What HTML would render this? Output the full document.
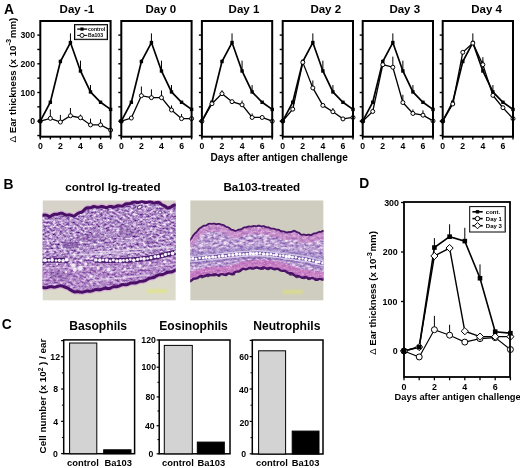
<!DOCTYPE html>
<html><head><meta charset="utf-8"><style>
html,body{margin:0;padding:0;background:#fff;}
svg{display:block;will-change:transform;}
text{font-family:"Liberation Sans", sans-serif;fill:#000;}
</style></head><body>
<svg width="520" height="468" viewBox="0 0 520 468">
<rect x="0" y="0" width="520" height="468" fill="#fff"/>
<line x1="70.43" y1="42.56" x2="70.43" y2="33.38" stroke="#000" stroke-width="1.0"/>
<line x1="80.47" y1="70.98" x2="80.47" y2="60.64" stroke="#000" stroke-width="1.0"/>
<line x1="90.51" y1="91.93" x2="90.51" y2="85.04" stroke="#000" stroke-width="1.0"/>
<line x1="60.39" y1="61.50" x2="60.39" y2="59.50" stroke="#000" stroke-width="1.0"/>
<line x1="50.34" y1="102.26" x2="50.34" y2="101.11" stroke="#000" stroke-width="1.0"/>
<line x1="50.34" y1="118.33" x2="50.34" y2="109.43" stroke="#000" stroke-width="1.0"/>
<line x1="60.39" y1="122.06" x2="60.39" y2="114.89" stroke="#000" stroke-width="1.0"/>
<line x1="70.43" y1="115.75" x2="70.43" y2="108.00" stroke="#000" stroke-width="1.0"/>
<line x1="80.47" y1="117.76" x2="80.47" y2="114.60" stroke="#000" stroke-width="1.0"/>
<line x1="90.51" y1="124.93" x2="90.51" y2="118.62" stroke="#000" stroke-width="1.0"/>
<line x1="100.56" y1="124.93" x2="100.56" y2="119.19" stroke="#000" stroke-width="1.0"/>
<polyline points="40.30,121.20 50.34,102.26 60.39,61.50 70.43,42.56 80.47,70.98 90.51,91.93 100.56,102.26 110.60,109.43" fill="none" stroke="#000" stroke-width="1.7" stroke-linejoin="miter"/>
<polyline points="40.30,121.20 50.34,118.33 60.39,122.06 70.43,115.75 80.47,117.76 90.51,124.93 100.56,124.93 110.60,130.10" fill="none" stroke="#000" stroke-width="1.3" stroke-linejoin="miter"/>
<rect x="38.60" y="119.50" width="3.4" height="3.4" fill="#000"/>
<rect x="48.64" y="100.56" width="3.4" height="3.4" fill="#000"/>
<rect x="58.69" y="59.80" width="3.4" height="3.4" fill="#000"/>
<rect x="68.73" y="40.86" width="3.4" height="3.4" fill="#000"/>
<rect x="78.77" y="69.28" width="3.4" height="3.4" fill="#000"/>
<rect x="88.81" y="90.23" width="3.4" height="3.4" fill="#000"/>
<rect x="98.86" y="100.56" width="3.4" height="3.4" fill="#000"/>
<rect x="108.90" y="107.73" width="3.4" height="3.4" fill="#000"/>
<circle cx="40.30" cy="121.20" r="2.0" fill="#fff" stroke="#000" stroke-width="1.0"/>
<circle cx="50.34" cy="118.33" r="2.0" fill="#fff" stroke="#000" stroke-width="1.0"/>
<circle cx="60.39" cy="122.06" r="2.0" fill="#fff" stroke="#000" stroke-width="1.0"/>
<circle cx="70.43" cy="115.75" r="2.0" fill="#fff" stroke="#000" stroke-width="1.0"/>
<circle cx="80.47" cy="117.76" r="2.0" fill="#fff" stroke="#000" stroke-width="1.0"/>
<circle cx="90.51" cy="124.93" r="2.0" fill="#fff" stroke="#000" stroke-width="1.0"/>
<circle cx="100.56" cy="124.93" r="2.0" fill="#fff" stroke="#000" stroke-width="1.0"/>
<circle cx="110.60" cy="130.10" r="2.0" fill="#fff" stroke="#000" stroke-width="1.0"/>
<rect x="38.60" y="119.50" width="3.4" height="3.4" fill="#000"/>
<rect x="40.30" y="21.00" width="70.30" height="115.70" fill="none" stroke="#000" stroke-width="2"/>
<line x1="37.30" y1="135.55" x2="40.30" y2="135.55" stroke="#000" stroke-width="1.4"/>
<line x1="37.30" y1="121.20" x2="40.30" y2="121.20" stroke="#000" stroke-width="1.4"/>
<line x1="37.30" y1="106.85" x2="40.30" y2="106.85" stroke="#000" stroke-width="1.4"/>
<line x1="37.30" y1="92.50" x2="40.30" y2="92.50" stroke="#000" stroke-width="1.4"/>
<line x1="37.30" y1="78.15" x2="40.30" y2="78.15" stroke="#000" stroke-width="1.4"/>
<line x1="37.30" y1="63.80" x2="40.30" y2="63.80" stroke="#000" stroke-width="1.4"/>
<line x1="37.30" y1="49.45" x2="40.30" y2="49.45" stroke="#000" stroke-width="1.4"/>
<line x1="37.30" y1="35.10" x2="40.30" y2="35.10" stroke="#000" stroke-width="1.4"/>
<line x1="40.30" y1="136.70" x2="40.30" y2="139.40" stroke="#000" stroke-width="1.4"/>
<line x1="50.34" y1="136.70" x2="50.34" y2="139.40" stroke="#000" stroke-width="1.4"/>
<line x1="60.39" y1="136.70" x2="60.39" y2="139.40" stroke="#000" stroke-width="1.4"/>
<line x1="70.43" y1="136.70" x2="70.43" y2="139.40" stroke="#000" stroke-width="1.4"/>
<line x1="80.47" y1="136.70" x2="80.47" y2="139.40" stroke="#000" stroke-width="1.4"/>
<line x1="90.51" y1="136.70" x2="90.51" y2="139.40" stroke="#000" stroke-width="1.4"/>
<line x1="100.56" y1="136.70" x2="100.56" y2="139.40" stroke="#000" stroke-width="1.4"/>
<line x1="110.60" y1="136.70" x2="110.60" y2="139.40" stroke="#000" stroke-width="1.4"/>
<text x="40.30" y="149.00" font-size="8.7" text-anchor="middle" font-weight="bold" >0</text>
<text x="60.39" y="149.00" font-size="8.7" text-anchor="middle" font-weight="bold" >2</text>
<text x="80.47" y="149.00" font-size="8.7" text-anchor="middle" font-weight="bold" >4</text>
<text x="100.56" y="149.00" font-size="8.7" text-anchor="middle" font-weight="bold" >6</text>
<text x="59.60" y="13.40" font-size="11.5" text-anchor="start" font-weight="bold" >Day -1</text>
<line x1="151.43" y1="42.56" x2="151.43" y2="33.38" stroke="#000" stroke-width="1.0"/>
<line x1="161.47" y1="70.98" x2="161.47" y2="60.64" stroke="#000" stroke-width="1.0"/>
<line x1="171.51" y1="91.93" x2="171.51" y2="85.04" stroke="#000" stroke-width="1.0"/>
<line x1="141.39" y1="61.50" x2="141.39" y2="59.50" stroke="#000" stroke-width="1.0"/>
<line x1="131.34" y1="102.26" x2="131.34" y2="101.11" stroke="#000" stroke-width="1.0"/>
<line x1="141.39" y1="95.66" x2="141.39" y2="86.47" stroke="#000" stroke-width="1.0"/>
<line x1="151.43" y1="97.67" x2="151.43" y2="89.34" stroke="#000" stroke-width="1.0"/>
<line x1="161.47" y1="97.67" x2="161.47" y2="90.49" stroke="#000" stroke-width="1.0"/>
<line x1="171.51" y1="110.01" x2="171.51" y2="105.42" stroke="#000" stroke-width="1.0"/>
<line x1="181.56" y1="118.62" x2="181.56" y2="114.03" stroke="#000" stroke-width="1.0"/>
<polyline points="121.30,121.20 131.34,102.26 141.39,61.50 151.43,42.56 161.47,70.98 171.51,91.93 181.56,102.26 191.60,109.43" fill="none" stroke="#000" stroke-width="1.7" stroke-linejoin="miter"/>
<polyline points="121.30,121.20 131.34,118.04 141.39,95.66 151.43,97.67 161.47,97.67 171.51,110.01 181.56,118.62 191.60,118.62" fill="none" stroke="#000" stroke-width="1.3" stroke-linejoin="miter"/>
<rect x="119.60" y="119.50" width="3.4" height="3.4" fill="#000"/>
<rect x="129.64" y="100.56" width="3.4" height="3.4" fill="#000"/>
<rect x="139.69" y="59.80" width="3.4" height="3.4" fill="#000"/>
<rect x="149.73" y="40.86" width="3.4" height="3.4" fill="#000"/>
<rect x="159.77" y="69.28" width="3.4" height="3.4" fill="#000"/>
<rect x="169.81" y="90.23" width="3.4" height="3.4" fill="#000"/>
<rect x="179.86" y="100.56" width="3.4" height="3.4" fill="#000"/>
<rect x="189.90" y="107.73" width="3.4" height="3.4" fill="#000"/>
<circle cx="121.30" cy="121.20" r="2.0" fill="#fff" stroke="#000" stroke-width="1.0"/>
<circle cx="131.34" cy="118.04" r="2.0" fill="#fff" stroke="#000" stroke-width="1.0"/>
<circle cx="141.39" cy="95.66" r="2.0" fill="#fff" stroke="#000" stroke-width="1.0"/>
<circle cx="151.43" cy="97.67" r="2.0" fill="#fff" stroke="#000" stroke-width="1.0"/>
<circle cx="161.47" cy="97.67" r="2.0" fill="#fff" stroke="#000" stroke-width="1.0"/>
<circle cx="171.51" cy="110.01" r="2.0" fill="#fff" stroke="#000" stroke-width="1.0"/>
<circle cx="181.56" cy="118.62" r="2.0" fill="#fff" stroke="#000" stroke-width="1.0"/>
<circle cx="191.60" cy="118.62" r="2.0" fill="#fff" stroke="#000" stroke-width="1.0"/>
<rect x="119.60" y="119.50" width="3.4" height="3.4" fill="#000"/>
<rect x="121.30" y="21.00" width="70.30" height="115.70" fill="none" stroke="#000" stroke-width="2"/>
<line x1="118.30" y1="135.55" x2="121.30" y2="135.55" stroke="#000" stroke-width="1.4"/>
<line x1="118.30" y1="121.20" x2="121.30" y2="121.20" stroke="#000" stroke-width="1.4"/>
<line x1="118.30" y1="106.85" x2="121.30" y2="106.85" stroke="#000" stroke-width="1.4"/>
<line x1="118.30" y1="92.50" x2="121.30" y2="92.50" stroke="#000" stroke-width="1.4"/>
<line x1="118.30" y1="78.15" x2="121.30" y2="78.15" stroke="#000" stroke-width="1.4"/>
<line x1="118.30" y1="63.80" x2="121.30" y2="63.80" stroke="#000" stroke-width="1.4"/>
<line x1="118.30" y1="49.45" x2="121.30" y2="49.45" stroke="#000" stroke-width="1.4"/>
<line x1="118.30" y1="35.10" x2="121.30" y2="35.10" stroke="#000" stroke-width="1.4"/>
<line x1="121.30" y1="136.70" x2="121.30" y2="139.40" stroke="#000" stroke-width="1.4"/>
<line x1="131.34" y1="136.70" x2="131.34" y2="139.40" stroke="#000" stroke-width="1.4"/>
<line x1="141.39" y1="136.70" x2="141.39" y2="139.40" stroke="#000" stroke-width="1.4"/>
<line x1="151.43" y1="136.70" x2="151.43" y2="139.40" stroke="#000" stroke-width="1.4"/>
<line x1="161.47" y1="136.70" x2="161.47" y2="139.40" stroke="#000" stroke-width="1.4"/>
<line x1="171.51" y1="136.70" x2="171.51" y2="139.40" stroke="#000" stroke-width="1.4"/>
<line x1="181.56" y1="136.70" x2="181.56" y2="139.40" stroke="#000" stroke-width="1.4"/>
<line x1="191.60" y1="136.70" x2="191.60" y2="139.40" stroke="#000" stroke-width="1.4"/>
<text x="121.30" y="149.00" font-size="8.7" text-anchor="middle" font-weight="bold" >0</text>
<text x="141.39" y="149.00" font-size="8.7" text-anchor="middle" font-weight="bold" >2</text>
<text x="161.47" y="149.00" font-size="8.7" text-anchor="middle" font-weight="bold" >4</text>
<text x="181.56" y="149.00" font-size="8.7" text-anchor="middle" font-weight="bold" >6</text>
<text x="145.50" y="13.40" font-size="11.5" text-anchor="start" font-weight="bold" >Day 0</text>
<line x1="232.03" y1="42.56" x2="232.03" y2="33.38" stroke="#000" stroke-width="1.0"/>
<line x1="242.07" y1="70.98" x2="242.07" y2="60.64" stroke="#000" stroke-width="1.0"/>
<line x1="252.11" y1="91.93" x2="252.11" y2="85.04" stroke="#000" stroke-width="1.0"/>
<line x1="221.99" y1="61.50" x2="221.99" y2="59.50" stroke="#000" stroke-width="1.0"/>
<line x1="211.94" y1="102.26" x2="211.94" y2="101.11" stroke="#000" stroke-width="1.0"/>
<line x1="221.99" y1="93.65" x2="221.99" y2="90.20" stroke="#000" stroke-width="1.0"/>
<line x1="242.07" y1="104.84" x2="242.07" y2="100.54" stroke="#000" stroke-width="1.0"/>
<line x1="252.11" y1="117.47" x2="252.11" y2="113.45" stroke="#000" stroke-width="1.0"/>
<polyline points="201.90,121.20 211.94,102.26 221.99,61.50 232.03,42.56 242.07,70.98 252.11,91.93 262.16,102.26 272.20,109.43" fill="none" stroke="#000" stroke-width="1.7" stroke-linejoin="miter"/>
<polyline points="201.90,121.20 211.94,103.69 221.99,93.65 232.03,101.68 242.07,104.84 252.11,117.47 262.16,117.47 272.20,121.20" fill="none" stroke="#000" stroke-width="1.3" stroke-linejoin="miter"/>
<rect x="200.20" y="119.50" width="3.4" height="3.4" fill="#000"/>
<rect x="210.24" y="100.56" width="3.4" height="3.4" fill="#000"/>
<rect x="220.29" y="59.80" width="3.4" height="3.4" fill="#000"/>
<rect x="230.33" y="40.86" width="3.4" height="3.4" fill="#000"/>
<rect x="240.37" y="69.28" width="3.4" height="3.4" fill="#000"/>
<rect x="250.41" y="90.23" width="3.4" height="3.4" fill="#000"/>
<rect x="260.46" y="100.56" width="3.4" height="3.4" fill="#000"/>
<rect x="270.50" y="107.73" width="3.4" height="3.4" fill="#000"/>
<circle cx="201.90" cy="121.20" r="2.0" fill="#fff" stroke="#000" stroke-width="1.0"/>
<circle cx="211.94" cy="103.69" r="2.0" fill="#fff" stroke="#000" stroke-width="1.0"/>
<circle cx="221.99" cy="93.65" r="2.0" fill="#fff" stroke="#000" stroke-width="1.0"/>
<circle cx="232.03" cy="101.68" r="2.0" fill="#fff" stroke="#000" stroke-width="1.0"/>
<circle cx="242.07" cy="104.84" r="2.0" fill="#fff" stroke="#000" stroke-width="1.0"/>
<circle cx="252.11" cy="117.47" r="2.0" fill="#fff" stroke="#000" stroke-width="1.0"/>
<circle cx="262.16" cy="117.47" r="2.0" fill="#fff" stroke="#000" stroke-width="1.0"/>
<circle cx="272.20" cy="121.20" r="2.0" fill="#fff" stroke="#000" stroke-width="1.0"/>
<rect x="201.90" y="21.00" width="70.30" height="115.70" fill="none" stroke="#000" stroke-width="2"/>
<line x1="198.90" y1="135.55" x2="201.90" y2="135.55" stroke="#000" stroke-width="1.4"/>
<line x1="198.90" y1="121.20" x2="201.90" y2="121.20" stroke="#000" stroke-width="1.4"/>
<line x1="198.90" y1="106.85" x2="201.90" y2="106.85" stroke="#000" stroke-width="1.4"/>
<line x1="198.90" y1="92.50" x2="201.90" y2="92.50" stroke="#000" stroke-width="1.4"/>
<line x1="198.90" y1="78.15" x2="201.90" y2="78.15" stroke="#000" stroke-width="1.4"/>
<line x1="198.90" y1="63.80" x2="201.90" y2="63.80" stroke="#000" stroke-width="1.4"/>
<line x1="198.90" y1="49.45" x2="201.90" y2="49.45" stroke="#000" stroke-width="1.4"/>
<line x1="198.90" y1="35.10" x2="201.90" y2="35.10" stroke="#000" stroke-width="1.4"/>
<line x1="201.90" y1="136.70" x2="201.90" y2="139.40" stroke="#000" stroke-width="1.4"/>
<line x1="211.94" y1="136.70" x2="211.94" y2="139.40" stroke="#000" stroke-width="1.4"/>
<line x1="221.99" y1="136.70" x2="221.99" y2="139.40" stroke="#000" stroke-width="1.4"/>
<line x1="232.03" y1="136.70" x2="232.03" y2="139.40" stroke="#000" stroke-width="1.4"/>
<line x1="242.07" y1="136.70" x2="242.07" y2="139.40" stroke="#000" stroke-width="1.4"/>
<line x1="252.11" y1="136.70" x2="252.11" y2="139.40" stroke="#000" stroke-width="1.4"/>
<line x1="262.16" y1="136.70" x2="262.16" y2="139.40" stroke="#000" stroke-width="1.4"/>
<line x1="272.20" y1="136.70" x2="272.20" y2="139.40" stroke="#000" stroke-width="1.4"/>
<text x="201.90" y="149.00" font-size="8.7" text-anchor="middle" font-weight="bold" >0</text>
<text x="221.99" y="149.00" font-size="8.7" text-anchor="middle" font-weight="bold" >2</text>
<text x="242.07" y="149.00" font-size="8.7" text-anchor="middle" font-weight="bold" >4</text>
<text x="262.16" y="149.00" font-size="8.7" text-anchor="middle" font-weight="bold" >6</text>
<text x="228.60" y="13.40" font-size="11.5" text-anchor="start" font-weight="bold" >Day 1</text>
<line x1="312.83" y1="42.56" x2="312.83" y2="33.38" stroke="#000" stroke-width="1.0"/>
<line x1="322.87" y1="70.98" x2="322.87" y2="60.64" stroke="#000" stroke-width="1.0"/>
<line x1="332.91" y1="91.93" x2="332.91" y2="85.04" stroke="#000" stroke-width="1.0"/>
<line x1="302.79" y1="61.50" x2="302.79" y2="59.50" stroke="#000" stroke-width="1.0"/>
<line x1="292.74" y1="102.26" x2="292.74" y2="101.11" stroke="#000" stroke-width="1.0"/>
<line x1="312.83" y1="87.91" x2="312.83" y2="80.45" stroke="#000" stroke-width="1.0"/>
<line x1="332.91" y1="111.73" x2="332.91" y2="108.00" stroke="#000" stroke-width="1.0"/>
<polyline points="282.70,121.20 292.74,102.26 302.79,61.50 312.83,42.56 322.87,70.98 332.91,91.93 342.96,102.26 353.00,109.43" fill="none" stroke="#000" stroke-width="1.7" stroke-linejoin="miter"/>
<polyline points="282.70,121.20 292.74,109.15 302.79,62.37 312.83,87.91 322.87,105.42 332.91,111.73 342.96,118.90 353.00,117.47" fill="none" stroke="#000" stroke-width="1.3" stroke-linejoin="miter"/>
<rect x="281.00" y="119.50" width="3.4" height="3.4" fill="#000"/>
<rect x="291.04" y="100.56" width="3.4" height="3.4" fill="#000"/>
<rect x="301.09" y="59.80" width="3.4" height="3.4" fill="#000"/>
<rect x="311.13" y="40.86" width="3.4" height="3.4" fill="#000"/>
<rect x="321.17" y="69.28" width="3.4" height="3.4" fill="#000"/>
<rect x="331.21" y="90.23" width="3.4" height="3.4" fill="#000"/>
<rect x="341.26" y="100.56" width="3.4" height="3.4" fill="#000"/>
<rect x="351.30" y="107.73" width="3.4" height="3.4" fill="#000"/>
<circle cx="282.70" cy="121.20" r="2.0" fill="#fff" stroke="#000" stroke-width="1.0"/>
<circle cx="292.74" cy="109.15" r="2.0" fill="#fff" stroke="#000" stroke-width="1.0"/>
<circle cx="302.79" cy="62.37" r="2.0" fill="#fff" stroke="#000" stroke-width="1.0"/>
<circle cx="312.83" cy="87.91" r="2.0" fill="#fff" stroke="#000" stroke-width="1.0"/>
<circle cx="322.87" cy="105.42" r="2.0" fill="#fff" stroke="#000" stroke-width="1.0"/>
<circle cx="332.91" cy="111.73" r="2.0" fill="#fff" stroke="#000" stroke-width="1.0"/>
<circle cx="342.96" cy="118.90" r="2.0" fill="#fff" stroke="#000" stroke-width="1.0"/>
<circle cx="353.00" cy="117.47" r="2.0" fill="#fff" stroke="#000" stroke-width="1.0"/>
<rect x="281.00" y="119.50" width="3.4" height="3.4" fill="#000"/>
<rect x="282.70" y="21.00" width="70.30" height="115.70" fill="none" stroke="#000" stroke-width="2"/>
<line x1="279.70" y1="135.55" x2="282.70" y2="135.55" stroke="#000" stroke-width="1.4"/>
<line x1="279.70" y1="121.20" x2="282.70" y2="121.20" stroke="#000" stroke-width="1.4"/>
<line x1="279.70" y1="106.85" x2="282.70" y2="106.85" stroke="#000" stroke-width="1.4"/>
<line x1="279.70" y1="92.50" x2="282.70" y2="92.50" stroke="#000" stroke-width="1.4"/>
<line x1="279.70" y1="78.15" x2="282.70" y2="78.15" stroke="#000" stroke-width="1.4"/>
<line x1="279.70" y1="63.80" x2="282.70" y2="63.80" stroke="#000" stroke-width="1.4"/>
<line x1="279.70" y1="49.45" x2="282.70" y2="49.45" stroke="#000" stroke-width="1.4"/>
<line x1="279.70" y1="35.10" x2="282.70" y2="35.10" stroke="#000" stroke-width="1.4"/>
<line x1="282.70" y1="136.70" x2="282.70" y2="139.40" stroke="#000" stroke-width="1.4"/>
<line x1="292.74" y1="136.70" x2="292.74" y2="139.40" stroke="#000" stroke-width="1.4"/>
<line x1="302.79" y1="136.70" x2="302.79" y2="139.40" stroke="#000" stroke-width="1.4"/>
<line x1="312.83" y1="136.70" x2="312.83" y2="139.40" stroke="#000" stroke-width="1.4"/>
<line x1="322.87" y1="136.70" x2="322.87" y2="139.40" stroke="#000" stroke-width="1.4"/>
<line x1="332.91" y1="136.70" x2="332.91" y2="139.40" stroke="#000" stroke-width="1.4"/>
<line x1="342.96" y1="136.70" x2="342.96" y2="139.40" stroke="#000" stroke-width="1.4"/>
<line x1="353.00" y1="136.70" x2="353.00" y2="139.40" stroke="#000" stroke-width="1.4"/>
<text x="282.70" y="149.00" font-size="8.7" text-anchor="middle" font-weight="bold" >0</text>
<text x="302.79" y="149.00" font-size="8.7" text-anchor="middle" font-weight="bold" >2</text>
<text x="322.87" y="149.00" font-size="8.7" text-anchor="middle" font-weight="bold" >4</text>
<text x="342.96" y="149.00" font-size="8.7" text-anchor="middle" font-weight="bold" >6</text>
<text x="310.40" y="13.40" font-size="11.5" text-anchor="start" font-weight="bold" >Day 2</text>
<line x1="392.83" y1="42.56" x2="392.83" y2="33.38" stroke="#000" stroke-width="1.0"/>
<line x1="402.87" y1="70.98" x2="402.87" y2="60.64" stroke="#000" stroke-width="1.0"/>
<line x1="412.91" y1="91.93" x2="412.91" y2="85.04" stroke="#000" stroke-width="1.0"/>
<line x1="382.79" y1="61.50" x2="382.79" y2="59.50" stroke="#000" stroke-width="1.0"/>
<line x1="372.74" y1="102.26" x2="372.74" y2="101.11" stroke="#000" stroke-width="1.0"/>
<line x1="392.83" y1="67.24" x2="392.83" y2="56.63" stroke="#000" stroke-width="1.0"/>
<line x1="402.87" y1="102.55" x2="402.87" y2="94.80" stroke="#000" stroke-width="1.0"/>
<line x1="412.91" y1="113.45" x2="412.91" y2="109.43" stroke="#000" stroke-width="1.0"/>
<line x1="422.96" y1="115.17" x2="422.96" y2="110.29" stroke="#000" stroke-width="1.0"/>
<polyline points="362.70,121.20 372.74,102.26 382.79,61.50 392.83,42.56 402.87,70.98 412.91,91.93 422.96,102.26 433.00,109.43" fill="none" stroke="#000" stroke-width="1.7" stroke-linejoin="miter"/>
<polyline points="362.70,121.20 372.74,111.44 382.79,64.66 392.83,67.24 402.87,102.55 412.91,113.45 422.96,115.17 433.00,120.91" fill="none" stroke="#000" stroke-width="1.3" stroke-linejoin="miter"/>
<rect x="361.00" y="119.50" width="3.4" height="3.4" fill="#000"/>
<rect x="371.04" y="100.56" width="3.4" height="3.4" fill="#000"/>
<rect x="381.09" y="59.80" width="3.4" height="3.4" fill="#000"/>
<rect x="391.13" y="40.86" width="3.4" height="3.4" fill="#000"/>
<rect x="401.17" y="69.28" width="3.4" height="3.4" fill="#000"/>
<rect x="411.21" y="90.23" width="3.4" height="3.4" fill="#000"/>
<rect x="421.26" y="100.56" width="3.4" height="3.4" fill="#000"/>
<rect x="431.30" y="107.73" width="3.4" height="3.4" fill="#000"/>
<circle cx="362.70" cy="121.20" r="2.0" fill="#fff" stroke="#000" stroke-width="1.0"/>
<circle cx="372.74" cy="111.44" r="2.0" fill="#fff" stroke="#000" stroke-width="1.0"/>
<circle cx="382.79" cy="64.66" r="2.0" fill="#fff" stroke="#000" stroke-width="1.0"/>
<circle cx="392.83" cy="67.24" r="2.0" fill="#fff" stroke="#000" stroke-width="1.0"/>
<circle cx="402.87" cy="102.55" r="2.0" fill="#fff" stroke="#000" stroke-width="1.0"/>
<circle cx="412.91" cy="113.45" r="2.0" fill="#fff" stroke="#000" stroke-width="1.0"/>
<circle cx="422.96" cy="115.17" r="2.0" fill="#fff" stroke="#000" stroke-width="1.0"/>
<circle cx="433.00" cy="120.91" r="2.0" fill="#fff" stroke="#000" stroke-width="1.0"/>
<rect x="361.00" y="119.50" width="3.4" height="3.4" fill="#000"/>
<rect x="362.70" y="21.00" width="70.30" height="115.70" fill="none" stroke="#000" stroke-width="2"/>
<line x1="359.70" y1="135.55" x2="362.70" y2="135.55" stroke="#000" stroke-width="1.4"/>
<line x1="359.70" y1="121.20" x2="362.70" y2="121.20" stroke="#000" stroke-width="1.4"/>
<line x1="359.70" y1="106.85" x2="362.70" y2="106.85" stroke="#000" stroke-width="1.4"/>
<line x1="359.70" y1="92.50" x2="362.70" y2="92.50" stroke="#000" stroke-width="1.4"/>
<line x1="359.70" y1="78.15" x2="362.70" y2="78.15" stroke="#000" stroke-width="1.4"/>
<line x1="359.70" y1="63.80" x2="362.70" y2="63.80" stroke="#000" stroke-width="1.4"/>
<line x1="359.70" y1="49.45" x2="362.70" y2="49.45" stroke="#000" stroke-width="1.4"/>
<line x1="359.70" y1="35.10" x2="362.70" y2="35.10" stroke="#000" stroke-width="1.4"/>
<line x1="362.70" y1="136.70" x2="362.70" y2="139.40" stroke="#000" stroke-width="1.4"/>
<line x1="372.74" y1="136.70" x2="372.74" y2="139.40" stroke="#000" stroke-width="1.4"/>
<line x1="382.79" y1="136.70" x2="382.79" y2="139.40" stroke="#000" stroke-width="1.4"/>
<line x1="392.83" y1="136.70" x2="392.83" y2="139.40" stroke="#000" stroke-width="1.4"/>
<line x1="402.87" y1="136.70" x2="402.87" y2="139.40" stroke="#000" stroke-width="1.4"/>
<line x1="412.91" y1="136.70" x2="412.91" y2="139.40" stroke="#000" stroke-width="1.4"/>
<line x1="422.96" y1="136.70" x2="422.96" y2="139.40" stroke="#000" stroke-width="1.4"/>
<line x1="433.00" y1="136.70" x2="433.00" y2="139.40" stroke="#000" stroke-width="1.4"/>
<text x="362.70" y="149.00" font-size="8.7" text-anchor="middle" font-weight="bold" >0</text>
<text x="382.79" y="149.00" font-size="8.7" text-anchor="middle" font-weight="bold" >2</text>
<text x="402.87" y="149.00" font-size="8.7" text-anchor="middle" font-weight="bold" >4</text>
<text x="422.96" y="149.00" font-size="8.7" text-anchor="middle" font-weight="bold" >6</text>
<text x="389.40" y="13.40" font-size="11.5" text-anchor="start" font-weight="bold" >Day 3</text>
<line x1="472.83" y1="42.56" x2="472.83" y2="33.38" stroke="#000" stroke-width="1.0"/>
<line x1="482.87" y1="70.98" x2="482.87" y2="60.64" stroke="#000" stroke-width="1.0"/>
<line x1="492.91" y1="91.93" x2="492.91" y2="85.04" stroke="#000" stroke-width="1.0"/>
<line x1="462.79" y1="61.50" x2="462.79" y2="59.50" stroke="#000" stroke-width="1.0"/>
<line x1="452.74" y1="102.26" x2="452.74" y2="101.11" stroke="#000" stroke-width="1.0"/>
<line x1="482.87" y1="64.66" x2="482.87" y2="57.20" stroke="#000" stroke-width="1.0"/>
<polyline points="442.70,121.20 452.74,102.26 462.79,61.50 472.83,42.56 482.87,70.98 492.91,91.93 502.96,102.26 513.00,109.43" fill="none" stroke="#000" stroke-width="1.7" stroke-linejoin="miter"/>
<polyline points="442.70,121.20 452.74,103.98 462.79,52.32 472.83,43.14 482.87,64.66 492.91,95.37 502.96,107.71 513.00,118.62" fill="none" stroke="#000" stroke-width="1.3" stroke-linejoin="miter"/>
<rect x="441.00" y="119.50" width="3.4" height="3.4" fill="#000"/>
<rect x="451.04" y="100.56" width="3.4" height="3.4" fill="#000"/>
<rect x="461.09" y="59.80" width="3.4" height="3.4" fill="#000"/>
<rect x="471.13" y="40.86" width="3.4" height="3.4" fill="#000"/>
<rect x="481.17" y="69.28" width="3.4" height="3.4" fill="#000"/>
<rect x="491.21" y="90.23" width="3.4" height="3.4" fill="#000"/>
<rect x="501.26" y="100.56" width="3.4" height="3.4" fill="#000"/>
<rect x="511.30" y="107.73" width="3.4" height="3.4" fill="#000"/>
<circle cx="442.70" cy="121.20" r="2.0" fill="#fff" stroke="#000" stroke-width="1.0"/>
<circle cx="452.74" cy="103.98" r="2.0" fill="#fff" stroke="#000" stroke-width="1.0"/>
<circle cx="462.79" cy="52.32" r="2.0" fill="#fff" stroke="#000" stroke-width="1.0"/>
<circle cx="472.83" cy="43.14" r="2.0" fill="#fff" stroke="#000" stroke-width="1.0"/>
<circle cx="482.87" cy="64.66" r="2.0" fill="#fff" stroke="#000" stroke-width="1.0"/>
<circle cx="492.91" cy="95.37" r="2.0" fill="#fff" stroke="#000" stroke-width="1.0"/>
<circle cx="502.96" cy="107.71" r="2.0" fill="#fff" stroke="#000" stroke-width="1.0"/>
<circle cx="513.00" cy="118.62" r="2.0" fill="#fff" stroke="#000" stroke-width="1.0"/>
<rect x="441.00" y="119.50" width="3.4" height="3.4" fill="#000"/>
<rect x="442.70" y="21.00" width="70.30" height="115.70" fill="none" stroke="#000" stroke-width="2"/>
<line x1="439.70" y1="135.55" x2="442.70" y2="135.55" stroke="#000" stroke-width="1.4"/>
<line x1="439.70" y1="121.20" x2="442.70" y2="121.20" stroke="#000" stroke-width="1.4"/>
<line x1="439.70" y1="106.85" x2="442.70" y2="106.85" stroke="#000" stroke-width="1.4"/>
<line x1="439.70" y1="92.50" x2="442.70" y2="92.50" stroke="#000" stroke-width="1.4"/>
<line x1="439.70" y1="78.15" x2="442.70" y2="78.15" stroke="#000" stroke-width="1.4"/>
<line x1="439.70" y1="63.80" x2="442.70" y2="63.80" stroke="#000" stroke-width="1.4"/>
<line x1="439.70" y1="49.45" x2="442.70" y2="49.45" stroke="#000" stroke-width="1.4"/>
<line x1="439.70" y1="35.10" x2="442.70" y2="35.10" stroke="#000" stroke-width="1.4"/>
<line x1="442.70" y1="136.70" x2="442.70" y2="139.40" stroke="#000" stroke-width="1.4"/>
<line x1="452.74" y1="136.70" x2="452.74" y2="139.40" stroke="#000" stroke-width="1.4"/>
<line x1="462.79" y1="136.70" x2="462.79" y2="139.40" stroke="#000" stroke-width="1.4"/>
<line x1="472.83" y1="136.70" x2="472.83" y2="139.40" stroke="#000" stroke-width="1.4"/>
<line x1="482.87" y1="136.70" x2="482.87" y2="139.40" stroke="#000" stroke-width="1.4"/>
<line x1="492.91" y1="136.70" x2="492.91" y2="139.40" stroke="#000" stroke-width="1.4"/>
<line x1="502.96" y1="136.70" x2="502.96" y2="139.40" stroke="#000" stroke-width="1.4"/>
<line x1="513.00" y1="136.70" x2="513.00" y2="139.40" stroke="#000" stroke-width="1.4"/>
<text x="442.70" y="149.00" font-size="8.7" text-anchor="middle" font-weight="bold" >0</text>
<text x="462.79" y="149.00" font-size="8.7" text-anchor="middle" font-weight="bold" >2</text>
<text x="482.87" y="149.00" font-size="8.7" text-anchor="middle" font-weight="bold" >4</text>
<text x="502.96" y="149.00" font-size="8.7" text-anchor="middle" font-weight="bold" >6</text>
<text x="471.30" y="13.40" font-size="11.5" text-anchor="start" font-weight="bold" >Day 4</text>
<text x="35.00" y="124.30" font-size="8.7" text-anchor="end" font-weight="bold" >0</text>
<text x="35.00" y="95.60" font-size="8.7" text-anchor="end" font-weight="bold" >100</text>
<text x="35.00" y="66.90" font-size="8.7" text-anchor="end" font-weight="bold" >200</text>
<text x="35.00" y="38.20" font-size="8.7" text-anchor="end" font-weight="bold" >300</text>
<rect x="74.5" y="24.6" width="33" height="15" fill="#fff" stroke="#000" stroke-width="1"/>
<rect x="75.3" y="25.4" width="31.4" height="13.4" fill="none" stroke="#888" stroke-width="0.6"/>
<line x1="77.20" y1="29.10" x2="87.20" y2="29.10" stroke="#000" stroke-width="1.3"/>
<rect x="80.40" y="27.50" width="3.2" height="3.2" fill="#000"/>
<line x1="77.20" y1="35.40" x2="87.20" y2="35.40" stroke="#000" stroke-width="1.0"/>
<circle cx="82.00" cy="35.40" r="2.0" fill="#fff" stroke="#000" stroke-width="0.9"/>
<text x="88.00" y="31.00" font-size="5.1" text-anchor="start" font-weight="bold" >control</text>
<text x="88.00" y="37.30" font-size="5.1" text-anchor="start" font-weight="bold" >Ba103</text>
<text x="210.50" y="160.80" font-size="10.15" text-anchor="start" font-weight="bold" >Days after antigen challenge</text>
<text transform="translate(15.6,142.5) rotate(-90)" font-size="9.7" font-weight="bold"><tspan font-weight="normal">&#916;</tspan> Ear thickness (x 10<tspan dy="-4.6" font-size="7.4">-3</tspan><tspan dy="4.6" dx="0.8">mm)</tspan></text>
<text x="4.00" y="14.00" font-size="13.8" text-anchor="start" font-weight="bold" >A</text>
<defs>
<filter id="m1" x="0" y="0" width="100%" height="100%" color-interpolation-filters="sRGB"><feTurbulence type="fractalNoise" baseFrequency="0.3 0.5" numOctaves="2" seed="7" result="n"/><feColorMatrix in="n" type="matrix" values="1.0392 0.0000 0.0000 0.0000 0.1667  1.3922 0.0000 0.0000 0.0000 -0.1431  0.8039 0.0000 0.0000 0.0000 0.3784  0.0000 0.0000 0.0000 0.0000 1.0000" result="c"/><feComposite in="c" in2="SourceGraphic" operator="in"/></filter>
<filter id="m2" x="0" y="0" width="100%" height="100%" color-interpolation-filters="sRGB"><feTurbulence type="fractalNoise" baseFrequency="0.25 0.4" numOctaves="2" seed="11" result="n"/><feColorMatrix in="n" type="matrix" values="0.7765 0.0000 0.0000 0.0000 0.3451  0.9490 0.0000 0.0000 0.0000 0.1490  0.5176 0.0000 0.0000 0.0000 0.5647  0.0000 0.0000 0.0000 0.0000 1.0000" result="c"/><feComposite in="c" in2="SourceGraphic" operator="in"/></filter>
<filter id="wsp" x="0" y="0" width="100%" height="100%" color-interpolation-filters="sRGB"><feTurbulence type="fractalNoise" baseFrequency="0.7" numOctaves="1" seed="5" result="n"/><feColorMatrix in="n" type="matrix" values="0 0 0 0 1.0000  0 0 0 0 1.0000  0 0 0 0 1.0000  5 0 0 0 -2.9" result="c"/><feComposite in="c" in2="SourceGraphic" operator="in"/></filter>
<filter id="streak" x="0" y="0" width="100%" height="100%" color-interpolation-filters="sRGB"><feTurbulence type="fractalNoise" baseFrequency="0.08 0.9" numOctaves="1" seed="9" result="n"/><feColorMatrix in="n" type="matrix" values="0 0 0 0 0.9608  0 0 0 0 0.9412  0 0 0 0 0.9804  7 0 0 0 -3.6" result="c"/><feComposite in="c" in2="SourceGraphic" operator="in"/></filter>
</defs>
<clipPath id="clip1"><rect x="42.5" y="200.3" width="133.3" height="100.30000000000001"/></clipPath>
<g clip-path="url(#clip1)">
<defs><linearGradient id="bg1" x1="0" y1="0" x2="0" y2="1"><stop offset="0" stop-color="#d7d2c9"/><stop offset="1" stop-color="#dcdbcb"/></linearGradient></defs>
<rect x="42.5" y="200.3" width="133.3" height="100.30000000000001" fill="url(#bg1)"/>
<path d="M41.00,214.85 C41.25,214.89 42.00,215.09 42.50,215.06 C43.00,215.04 43.50,214.78 44.00,214.70 C44.50,214.62 45.00,214.54 45.50,214.60 C46.00,214.66 46.50,214.84 47.00,215.07 C47.50,215.30 48.00,215.79 48.50,215.97 C49.00,216.15 49.50,216.22 50.00,216.13 C50.50,216.04 51.00,215.70 51.50,215.42 C52.00,215.15 52.50,214.73 53.00,214.48 C53.50,214.23 54.00,214.03 54.50,213.94 C55.00,213.86 55.50,213.96 56.00,213.97 C56.50,213.97 57.00,214.08 57.50,213.99 C58.00,213.90 58.50,213.60 59.00,213.44 C59.50,213.28 60.00,213.11 60.50,213.04 C61.00,212.97 61.50,212.92 62.00,213.02 C62.50,213.12 63.00,213.38 63.50,213.62 C64.00,213.86 64.50,214.24 65.00,214.45 C65.50,214.66 66.00,214.83 66.50,214.87 C67.00,214.92 67.50,214.77 68.00,214.72 C68.50,214.67 69.00,214.53 69.50,214.57 C70.00,214.61 70.50,214.79 71.00,214.95 C71.50,215.10 72.00,215.35 72.50,215.49 C73.00,215.63 73.50,215.90 74.00,215.80 C74.50,215.70 75.00,215.26 75.50,214.89 C76.00,214.52 76.50,213.96 77.00,213.60 C77.50,213.24 78.00,212.95 78.50,212.74 C79.00,212.52 79.50,212.46 80.00,212.31 C80.50,212.15 81.00,212.08 81.50,211.82 C82.00,211.57 82.50,211.19 83.00,210.77 C83.50,210.34 84.00,209.74 84.50,209.28 C85.00,208.82 85.50,208.34 86.00,208.02 C86.50,207.71 87.00,207.48 87.50,207.39 C88.00,207.30 88.50,207.46 89.00,207.48 C89.50,207.49 90.00,207.56 90.50,207.46 C91.00,207.35 91.50,207.06 92.00,206.86 C92.50,206.67 93.00,206.36 93.50,206.27 C94.00,206.18 94.50,206.22 95.00,206.31 C95.50,206.40 96.00,206.68 96.50,206.81 C97.00,206.93 97.50,207.08 98.00,207.07 C98.50,207.05 99.00,206.85 99.50,206.71 C100.00,206.56 100.50,206.28 101.00,206.19 C101.50,206.09 102.00,206.06 102.50,206.14 C103.00,206.22 103.50,206.49 104.00,206.66 C104.50,206.83 105.00,207.10 105.50,207.18 C106.00,207.26 106.50,207.24 107.00,207.13 C107.50,207.02 108.00,206.70 108.50,206.53 C109.00,206.36 109.50,206.14 110.00,206.10 C110.50,206.06 111.00,206.19 111.50,206.29 C112.00,206.39 112.50,206.64 113.00,206.71 C113.50,206.78 114.00,206.81 114.50,206.70 C115.00,206.60 115.50,206.29 116.00,206.08 C116.50,205.87 117.00,205.56 117.50,205.44 C118.00,205.32 118.50,205.32 119.00,205.37 C119.50,205.42 120.00,205.65 120.50,205.73 C121.00,205.81 121.50,205.96 122.00,205.86 C122.50,205.76 123.00,205.44 123.50,205.14 C124.00,204.85 124.50,204.36 125.00,204.08 C125.50,203.80 126.00,203.57 126.50,203.45 C127.00,203.34 127.50,203.41 128.00,203.39 C128.50,203.37 129.00,203.41 129.50,203.34 C130.00,203.26 130.50,203.11 131.00,202.92 C131.50,202.73 132.00,202.38 132.50,202.18 C133.00,201.97 133.50,201.73 134.00,201.67 C134.50,201.60 135.00,201.70 135.50,201.78 C136.00,201.85 136.50,202.06 137.00,202.12 C137.50,202.18 138.00,202.23 138.50,202.16 C139.00,202.09 139.50,201.85 140.00,201.70 C140.50,201.55 141.00,201.30 141.50,201.24 C142.00,201.18 142.50,201.24 143.00,201.35 C143.50,201.46 144.00,201.74 144.50,201.89 C145.00,202.04 145.50,202.22 146.00,202.24 C146.50,202.26 147.00,202.11 147.50,201.99 C148.00,201.87 148.50,201.60 149.00,201.51 C149.50,201.42 150.00,201.38 150.50,201.46 C151.00,201.54 151.50,201.80 152.00,201.98 C152.50,202.16 153.00,202.45 153.50,202.56 C154.00,202.66 154.50,202.65 155.00,202.59 C155.50,202.52 156.00,202.28 156.50,202.18 C157.00,202.09 157.50,201.97 158.00,202.01 C158.50,202.06 159.00,202.18 159.50,202.46 C160.00,202.75 160.50,203.33 161.00,203.72 C161.50,204.11 162.00,204.55 162.50,204.83 C163.00,205.10 163.50,205.12 164.00,205.37 C164.50,205.61 165.00,205.92 165.50,206.28 C166.00,206.64 166.50,207.33 167.00,207.53 C167.50,207.73 168.00,207.54 168.50,207.48 C169.00,207.43 169.50,207.38 170.00,207.20 C170.50,207.01 171.00,206.67 171.50,206.36 C172.00,206.04 172.50,205.59 173.00,205.31 C173.50,205.04 174.00,204.77 174.50,204.70 C175.00,204.64 175.75,204.87 176.00,204.90 L176.00,270.10 C175.75,270.21 175.00,270.54 174.50,270.80 C174.00,271.05 173.50,271.39 173.00,271.62 C172.50,271.85 172.00,272.05 171.50,272.17 C171.00,272.28 170.50,272.29 170.00,272.32 C169.50,272.36 169.00,272.31 168.50,272.36 C168.00,272.42 167.50,272.51 167.00,272.67 C166.50,272.84 166.00,273.12 165.50,273.38 C165.00,273.63 164.50,273.97 164.00,274.20 C163.50,274.42 163.00,274.63 162.50,274.74 C162.00,274.86 161.50,274.87 161.00,274.90 C160.50,274.94 160.00,274.88 159.50,274.94 C159.00,275.01 158.50,275.10 158.00,275.29 C157.50,275.49 157.00,275.83 156.50,276.12 C156.00,276.42 155.50,276.80 155.00,277.07 C154.50,277.34 154.00,277.58 153.50,277.74 C153.00,277.90 152.50,277.95 152.00,278.03 C151.50,278.10 151.00,278.09 150.50,278.19 C150.00,278.29 149.50,278.42 149.00,278.63 C148.50,278.84 148.00,279.16 147.50,279.46 C147.00,279.75 146.50,280.13 146.00,280.40 C145.50,280.67 145.00,280.92 144.50,281.08 C144.00,281.24 143.50,281.31 143.00,281.36 C142.50,281.41 142.00,281.35 141.50,281.38 C141.00,281.41 140.50,281.43 140.00,281.55 C139.50,281.67 139.00,281.90 138.50,282.11 C138.00,282.31 137.50,282.60 137.00,282.78 C136.50,282.96 136.00,283.12 135.50,283.19 C135.00,283.26 134.50,283.22 134.00,283.20 C133.50,283.19 133.00,283.09 132.50,283.10 C132.00,283.11 131.50,283.14 131.00,283.26 C130.50,283.39 130.00,283.62 129.50,283.82 C129.00,284.03 128.50,284.32 128.00,284.50 C127.50,284.68 127.00,284.83 126.50,284.90 C126.00,284.97 125.50,284.93 125.00,284.92 C124.50,284.90 124.00,284.80 123.50,284.81 C123.00,284.82 122.50,284.86 122.00,284.98 C121.50,285.10 121.00,285.33 120.50,285.55 C120.00,285.77 119.50,286.10 119.00,286.30 C118.50,286.51 118.00,286.69 117.50,286.78 C117.00,286.88 116.50,286.86 116.00,286.87 C115.50,286.88 115.00,286.81 114.50,286.85 C114.00,286.88 113.50,286.94 113.00,287.09 C112.50,287.23 112.00,287.49 111.50,287.72 C111.00,287.95 110.50,288.29 110.00,288.47 C109.50,288.65 109.00,288.75 108.50,288.80 C108.00,288.84 107.50,288.78 107.00,288.74 C106.50,288.69 106.00,288.57 105.50,288.55 C105.00,288.54 104.50,288.55 104.00,288.64 C103.50,288.74 103.00,288.94 102.50,289.12 C102.00,289.30 101.50,289.57 101.00,289.72 C100.50,289.88 100.00,290.00 99.50,290.05 C99.00,290.09 98.50,290.03 98.00,289.99 C97.50,289.94 97.00,289.82 96.50,289.80 C96.00,289.79 95.50,289.81 95.00,289.91 C94.50,290.01 94.00,290.24 93.50,290.43 C93.00,290.62 92.50,290.90 92.00,291.07 C91.50,291.24 91.00,291.38 90.50,291.44 C90.00,291.50 89.50,291.45 89.00,291.42 C88.50,291.39 88.00,291.28 87.50,291.28 C87.00,291.28 86.50,291.33 86.00,291.41 C85.50,291.49 85.00,291.63 84.50,291.77 C84.00,291.91 83.50,292.14 83.00,292.25 C82.50,292.37 82.00,292.46 81.50,292.46 C81.00,292.46 80.50,292.36 80.00,292.28 C79.50,292.20 79.00,292.03 78.50,291.98 C78.00,291.92 77.50,291.93 77.00,291.95 C76.50,291.97 76.00,292.09 75.50,292.08 C75.00,292.07 74.50,291.99 74.00,291.87 C73.50,291.76 73.00,291.62 72.50,291.39 C72.00,291.16 71.50,290.84 71.00,290.52 C70.50,290.19 70.00,289.78 69.50,289.44 C69.00,289.10 68.50,288.73 68.00,288.47 C67.50,288.21 67.00,288.06 66.50,287.88 C66.00,287.71 65.50,287.62 65.00,287.41 C64.50,287.21 64.00,286.87 63.50,286.68 C63.00,286.48 62.50,286.35 62.00,286.24 C61.50,286.13 61.00,286.06 60.50,286.03 C60.00,286.01 59.50,286.01 59.00,286.10 C58.50,286.18 58.00,286.38 57.50,286.55 C57.00,286.72 56.50,286.99 56.00,287.12 C55.50,287.26 55.00,287.36 54.50,287.37 C54.00,287.39 53.50,287.29 53.00,287.21 C52.50,287.14 52.00,286.98 51.50,286.94 C51.00,286.89 50.50,286.87 50.00,286.93 C49.50,286.99 49.00,287.17 48.50,287.32 C48.00,287.46 47.50,287.70 47.00,287.82 C46.50,287.94 46.00,288.04 45.50,288.05 C45.00,288.06 44.50,287.97 44.00,287.89 C43.50,287.82 43.00,287.66 42.50,287.62 C42.00,287.57 41.25,287.61 41.00,287.61 Z" fill="#a080bd" filter="url(#m1)"/>
<clipPath id="tc1"><path d="M41.00,214.85 C41.25,214.89 42.00,215.09 42.50,215.06 C43.00,215.04 43.50,214.78 44.00,214.70 C44.50,214.62 45.00,214.54 45.50,214.60 C46.00,214.66 46.50,214.84 47.00,215.07 C47.50,215.30 48.00,215.79 48.50,215.97 C49.00,216.15 49.50,216.22 50.00,216.13 C50.50,216.04 51.00,215.70 51.50,215.42 C52.00,215.15 52.50,214.73 53.00,214.48 C53.50,214.23 54.00,214.03 54.50,213.94 C55.00,213.86 55.50,213.96 56.00,213.97 C56.50,213.97 57.00,214.08 57.50,213.99 C58.00,213.90 58.50,213.60 59.00,213.44 C59.50,213.28 60.00,213.11 60.50,213.04 C61.00,212.97 61.50,212.92 62.00,213.02 C62.50,213.12 63.00,213.38 63.50,213.62 C64.00,213.86 64.50,214.24 65.00,214.45 C65.50,214.66 66.00,214.83 66.50,214.87 C67.00,214.92 67.50,214.77 68.00,214.72 C68.50,214.67 69.00,214.53 69.50,214.57 C70.00,214.61 70.50,214.79 71.00,214.95 C71.50,215.10 72.00,215.35 72.50,215.49 C73.00,215.63 73.50,215.90 74.00,215.80 C74.50,215.70 75.00,215.26 75.50,214.89 C76.00,214.52 76.50,213.96 77.00,213.60 C77.50,213.24 78.00,212.95 78.50,212.74 C79.00,212.52 79.50,212.46 80.00,212.31 C80.50,212.15 81.00,212.08 81.50,211.82 C82.00,211.57 82.50,211.19 83.00,210.77 C83.50,210.34 84.00,209.74 84.50,209.28 C85.00,208.82 85.50,208.34 86.00,208.02 C86.50,207.71 87.00,207.48 87.50,207.39 C88.00,207.30 88.50,207.46 89.00,207.48 C89.50,207.49 90.00,207.56 90.50,207.46 C91.00,207.35 91.50,207.06 92.00,206.86 C92.50,206.67 93.00,206.36 93.50,206.27 C94.00,206.18 94.50,206.22 95.00,206.31 C95.50,206.40 96.00,206.68 96.50,206.81 C97.00,206.93 97.50,207.08 98.00,207.07 C98.50,207.05 99.00,206.85 99.50,206.71 C100.00,206.56 100.50,206.28 101.00,206.19 C101.50,206.09 102.00,206.06 102.50,206.14 C103.00,206.22 103.50,206.49 104.00,206.66 C104.50,206.83 105.00,207.10 105.50,207.18 C106.00,207.26 106.50,207.24 107.00,207.13 C107.50,207.02 108.00,206.70 108.50,206.53 C109.00,206.36 109.50,206.14 110.00,206.10 C110.50,206.06 111.00,206.19 111.50,206.29 C112.00,206.39 112.50,206.64 113.00,206.71 C113.50,206.78 114.00,206.81 114.50,206.70 C115.00,206.60 115.50,206.29 116.00,206.08 C116.50,205.87 117.00,205.56 117.50,205.44 C118.00,205.32 118.50,205.32 119.00,205.37 C119.50,205.42 120.00,205.65 120.50,205.73 C121.00,205.81 121.50,205.96 122.00,205.86 C122.50,205.76 123.00,205.44 123.50,205.14 C124.00,204.85 124.50,204.36 125.00,204.08 C125.50,203.80 126.00,203.57 126.50,203.45 C127.00,203.34 127.50,203.41 128.00,203.39 C128.50,203.37 129.00,203.41 129.50,203.34 C130.00,203.26 130.50,203.11 131.00,202.92 C131.50,202.73 132.00,202.38 132.50,202.18 C133.00,201.97 133.50,201.73 134.00,201.67 C134.50,201.60 135.00,201.70 135.50,201.78 C136.00,201.85 136.50,202.06 137.00,202.12 C137.50,202.18 138.00,202.23 138.50,202.16 C139.00,202.09 139.50,201.85 140.00,201.70 C140.50,201.55 141.00,201.30 141.50,201.24 C142.00,201.18 142.50,201.24 143.00,201.35 C143.50,201.46 144.00,201.74 144.50,201.89 C145.00,202.04 145.50,202.22 146.00,202.24 C146.50,202.26 147.00,202.11 147.50,201.99 C148.00,201.87 148.50,201.60 149.00,201.51 C149.50,201.42 150.00,201.38 150.50,201.46 C151.00,201.54 151.50,201.80 152.00,201.98 C152.50,202.16 153.00,202.45 153.50,202.56 C154.00,202.66 154.50,202.65 155.00,202.59 C155.50,202.52 156.00,202.28 156.50,202.18 C157.00,202.09 157.50,201.97 158.00,202.01 C158.50,202.06 159.00,202.18 159.50,202.46 C160.00,202.75 160.50,203.33 161.00,203.72 C161.50,204.11 162.00,204.55 162.50,204.83 C163.00,205.10 163.50,205.12 164.00,205.37 C164.50,205.61 165.00,205.92 165.50,206.28 C166.00,206.64 166.50,207.33 167.00,207.53 C167.50,207.73 168.00,207.54 168.50,207.48 C169.00,207.43 169.50,207.38 170.00,207.20 C170.50,207.01 171.00,206.67 171.50,206.36 C172.00,206.04 172.50,205.59 173.00,205.31 C173.50,205.04 174.00,204.77 174.50,204.70 C175.00,204.64 175.75,204.87 176.00,204.90 L176.00,270.10 C175.75,270.21 175.00,270.54 174.50,270.80 C174.00,271.05 173.50,271.39 173.00,271.62 C172.50,271.85 172.00,272.05 171.50,272.17 C171.00,272.28 170.50,272.29 170.00,272.32 C169.50,272.36 169.00,272.31 168.50,272.36 C168.00,272.42 167.50,272.51 167.00,272.67 C166.50,272.84 166.00,273.12 165.50,273.38 C165.00,273.63 164.50,273.97 164.00,274.20 C163.50,274.42 163.00,274.63 162.50,274.74 C162.00,274.86 161.50,274.87 161.00,274.90 C160.50,274.94 160.00,274.88 159.50,274.94 C159.00,275.01 158.50,275.10 158.00,275.29 C157.50,275.49 157.00,275.83 156.50,276.12 C156.00,276.42 155.50,276.80 155.00,277.07 C154.50,277.34 154.00,277.58 153.50,277.74 C153.00,277.90 152.50,277.95 152.00,278.03 C151.50,278.10 151.00,278.09 150.50,278.19 C150.00,278.29 149.50,278.42 149.00,278.63 C148.50,278.84 148.00,279.16 147.50,279.46 C147.00,279.75 146.50,280.13 146.00,280.40 C145.50,280.67 145.00,280.92 144.50,281.08 C144.00,281.24 143.50,281.31 143.00,281.36 C142.50,281.41 142.00,281.35 141.50,281.38 C141.00,281.41 140.50,281.43 140.00,281.55 C139.50,281.67 139.00,281.90 138.50,282.11 C138.00,282.31 137.50,282.60 137.00,282.78 C136.50,282.96 136.00,283.12 135.50,283.19 C135.00,283.26 134.50,283.22 134.00,283.20 C133.50,283.19 133.00,283.09 132.50,283.10 C132.00,283.11 131.50,283.14 131.00,283.26 C130.50,283.39 130.00,283.62 129.50,283.82 C129.00,284.03 128.50,284.32 128.00,284.50 C127.50,284.68 127.00,284.83 126.50,284.90 C126.00,284.97 125.50,284.93 125.00,284.92 C124.50,284.90 124.00,284.80 123.50,284.81 C123.00,284.82 122.50,284.86 122.00,284.98 C121.50,285.10 121.00,285.33 120.50,285.55 C120.00,285.77 119.50,286.10 119.00,286.30 C118.50,286.51 118.00,286.69 117.50,286.78 C117.00,286.88 116.50,286.86 116.00,286.87 C115.50,286.88 115.00,286.81 114.50,286.85 C114.00,286.88 113.50,286.94 113.00,287.09 C112.50,287.23 112.00,287.49 111.50,287.72 C111.00,287.95 110.50,288.29 110.00,288.47 C109.50,288.65 109.00,288.75 108.50,288.80 C108.00,288.84 107.50,288.78 107.00,288.74 C106.50,288.69 106.00,288.57 105.50,288.55 C105.00,288.54 104.50,288.55 104.00,288.64 C103.50,288.74 103.00,288.94 102.50,289.12 C102.00,289.30 101.50,289.57 101.00,289.72 C100.50,289.88 100.00,290.00 99.50,290.05 C99.00,290.09 98.50,290.03 98.00,289.99 C97.50,289.94 97.00,289.82 96.50,289.80 C96.00,289.79 95.50,289.81 95.00,289.91 C94.50,290.01 94.00,290.24 93.50,290.43 C93.00,290.62 92.50,290.90 92.00,291.07 C91.50,291.24 91.00,291.38 90.50,291.44 C90.00,291.50 89.50,291.45 89.00,291.42 C88.50,291.39 88.00,291.28 87.50,291.28 C87.00,291.28 86.50,291.33 86.00,291.41 C85.50,291.49 85.00,291.63 84.50,291.77 C84.00,291.91 83.50,292.14 83.00,292.25 C82.50,292.37 82.00,292.46 81.50,292.46 C81.00,292.46 80.50,292.36 80.00,292.28 C79.50,292.20 79.00,292.03 78.50,291.98 C78.00,291.92 77.50,291.93 77.00,291.95 C76.50,291.97 76.00,292.09 75.50,292.08 C75.00,292.07 74.50,291.99 74.00,291.87 C73.50,291.76 73.00,291.62 72.50,291.39 C72.00,291.16 71.50,290.84 71.00,290.52 C70.50,290.19 70.00,289.78 69.50,289.44 C69.00,289.10 68.50,288.73 68.00,288.47 C67.50,288.21 67.00,288.06 66.50,287.88 C66.00,287.71 65.50,287.62 65.00,287.41 C64.50,287.21 64.00,286.87 63.50,286.68 C63.00,286.48 62.50,286.35 62.00,286.24 C61.50,286.13 61.00,286.06 60.50,286.03 C60.00,286.01 59.50,286.01 59.00,286.10 C58.50,286.18 58.00,286.38 57.50,286.55 C57.00,286.72 56.50,286.99 56.00,287.12 C55.50,287.26 55.00,287.36 54.50,287.37 C54.00,287.39 53.50,287.29 53.00,287.21 C52.50,287.14 52.00,286.98 51.50,286.94 C51.00,286.89 50.50,286.87 50.00,286.93 C49.50,286.99 49.00,287.17 48.50,287.32 C48.00,287.46 47.50,287.70 47.00,287.82 C46.50,287.94 46.00,288.04 45.50,288.05 C45.00,288.06 44.50,287.97 44.00,287.89 C43.50,287.82 43.00,287.66 42.50,287.62 C42.00,287.57 41.25,287.61 41.00,287.61 Z"/></clipPath>
<g clip-path="url(#tc1)">
<path d="M41,266 L177,256 L177,300 L41,300 Z" fill="#b070c0" opacity="0.25"/>
<ellipse cx="71" cy="245.5" rx="8" ry="3.5" fill="#6a3a90" opacity="0.55"/>
<ellipse cx="150" cy="242" rx="6" ry="3" fill="#6a3a90" opacity="0.35"/>
<ellipse cx="128" cy="232" rx="10" ry="4" fill="#6a3a90" opacity="0.3"/>
<ellipse cx="90" cy="238" rx="14" ry="4" fill="#6a3a90" opacity="0.25"/>
<ellipse cx="60" cy="275" rx="10" ry="4" fill="#6a3a90" opacity="0.3"/>
<line x1="95" y1="252" x2="175" y2="247" stroke="#eee6f4" stroke-width="1.6" opacity="0.7"/>
<line x1="70" y1="255" x2="140" y2="252" stroke="#eee6f4" stroke-width="1.4" opacity="0.6"/>
<line x1="45" y1="268" x2="110" y2="266" stroke="#eee6f4" stroke-width="1.2" opacity="0.5"/>
<line x1="90" y1="281" x2="150" y2="275" stroke="#eee6f4" stroke-width="1.5" opacity="0.6"/>
<line x1="110" y1="272" x2="176" y2="264" stroke="#eee6f4" stroke-width="1.2" opacity="0.55"/>
<line x1="48" y1="250" x2="90" y2="248" stroke="#eee6f4" stroke-width="1.0" opacity="0.45"/>
<line x1="100" y1="262" x2="170" y2="258" stroke="#eee6f4" stroke-width="1.0" opacity="0.5"/>
<line x1="120" y1="243" x2="170" y2="238" stroke="#eee6f4" stroke-width="1.0" opacity="0.45"/>
<rect x="42.5" y="200.3" width="133.3" height="100.30000000000001" fill="#fff" filter="url(#wsp)" opacity="0.38"/>
<circle cx="73.5" cy="265.6" r="2.2" fill="#f4f0f6" opacity="0.92"/>
<circle cx="80.2" cy="268.3" r="2.4" fill="#f4f0f6" opacity="0.92"/>
<circle cx="74.8" cy="269.6" r="2.0" fill="#f4f0f6" opacity="0.92"/>
<circle cx="108.5" cy="269.6" r="2.0" fill="#f4f0f6" opacity="0.92"/>
<circle cx="91" cy="276.3" r="1.8" fill="#f4f0f6" opacity="0.92"/>
<circle cx="86" cy="264" r="1.6" fill="#f4f0f6" opacity="0.92"/>
<circle cx="98" cy="268" r="1.4" fill="#f4f0f6" opacity="0.92"/>
<circle cx="66" cy="272" r="1.3" fill="#f4f0f6" opacity="0.92"/>
<circle cx="125" cy="269" r="1.4" fill="#f4f0f6" opacity="0.92"/>
<circle cx="57" cy="264" r="1.2" fill="#f4f0f6" opacity="0.92"/>
<circle cx="140" cy="266" r="1.6" fill="#f4f0f6" opacity="0.92"/>
<circle cx="150" cy="263" r="1.4" fill="#f4f0f6" opacity="0.92"/>
<circle cx="165" cy="262" r="1.5" fill="#f4f0f6" opacity="0.92"/>
</g>
<ellipse cx="139.7" cy="207" rx="2.6" ry="1.5" transform="rotate(-30 139.7 207)" fill="#efe6f2" stroke="#5a2a80" stroke-width="0.9"/>
<circle cx="160" cy="212.5" r="1.6" fill="#efe6f2" stroke="#5a2a80" stroke-width="0.8"/>
<path d="M41.00,260.40 C43.33,260.38 50.50,260.33 55.00,260.30 C59.50,260.27 65.83,260.22 68.00,260.20" fill="none" stroke="#4a1a70" stroke-width="5.0"/>
<circle cx="42.0" cy="260.0" r="1.89" fill="#f6f2f8"/>
<circle cx="45.1" cy="260.2" r="1.91" fill="#f6f2f8"/>
<circle cx="48.9" cy="260.3" r="1.41" fill="#f6f2f8"/>
<circle cx="52.1" cy="259.9" r="1.85" fill="#f6f2f8"/>
<circle cx="56.1" cy="260.5" r="1.34" fill="#f6f2f8"/>
<circle cx="59.3" cy="260.3" r="1.58" fill="#f6f2f8"/>
<circle cx="63.1" cy="260.7" r="1.81" fill="#f6f2f8"/>
<circle cx="66.6" cy="259.7" r="1.87" fill="#f6f2f8"/>
<path d="M95.00,260.20 C99.17,260.27 112.50,260.75 120.00,260.60 C127.50,260.45 133.67,259.98 140.00,259.30 C146.33,258.62 151.83,257.75 158.00,256.50 C164.17,255.25 173.83,252.58 177.00,251.80" fill="none" stroke="#4a1a70" stroke-width="5.0"/>
<circle cx="96.0" cy="259.9" r="1.72" fill="#f6f2f8"/>
<circle cx="99.9" cy="260.2" r="1.84" fill="#f6f2f8"/>
<circle cx="103.2" cy="259.9" r="1.30" fill="#f6f2f8"/>
<circle cx="106.7" cy="260.1" r="1.84" fill="#f6f2f8"/>
<circle cx="110.3" cy="260.9" r="1.30" fill="#f6f2f8"/>
<circle cx="113.4" cy="260.1" r="1.49" fill="#f6f2f8"/>
<circle cx="116.8" cy="260.9" r="1.71" fill="#f6f2f8"/>
<circle cx="120.3" cy="260.8" r="1.86" fill="#f6f2f8"/>
<circle cx="123.5" cy="260.4" r="1.38" fill="#f6f2f8"/>
<circle cx="127.0" cy="260.3" r="1.59" fill="#f6f2f8"/>
<circle cx="130.4" cy="259.6" r="1.28" fill="#f6f2f8"/>
<circle cx="133.8" cy="260.2" r="1.75" fill="#f6f2f8"/>
<circle cx="137.6" cy="259.3" r="1.60" fill="#f6f2f8"/>
<circle cx="140.8" cy="258.8" r="1.47" fill="#f6f2f8"/>
<circle cx="144.0" cy="258.8" r="1.86" fill="#f6f2f8"/>
<circle cx="147.5" cy="258.5" r="1.35" fill="#f6f2f8"/>
<circle cx="151.0" cy="257.7" r="1.64" fill="#f6f2f8"/>
<circle cx="155.1" cy="256.6" r="1.71" fill="#f6f2f8"/>
<circle cx="158.3" cy="256.4" r="1.54" fill="#f6f2f8"/>
<circle cx="162.3" cy="255.9" r="1.36" fill="#f6f2f8"/>
<circle cx="165.5" cy="254.5" r="1.66" fill="#f6f2f8"/>
<circle cx="168.8" cy="253.7" r="1.28" fill="#f6f2f8"/>
<circle cx="172.5" cy="253.4" r="1.83" fill="#f6f2f8"/>
<circle cx="175.8" cy="251.6" r="1.62" fill="#f6f2f8"/>
<path d="M41.00,212.95 C41.25,212.99 42.00,213.19 42.50,213.16 C43.00,213.14 43.50,212.88 44.00,212.80 C44.50,212.72 45.00,212.64 45.50,212.70 C46.00,212.76 46.50,212.94 47.00,213.17 C47.50,213.40 48.00,213.89 48.50,214.07 C49.00,214.25 49.50,214.32 50.00,214.23 C50.50,214.14 51.00,213.80 51.50,213.52 C52.00,213.25 52.50,212.83 53.00,212.58 C53.50,212.33 54.00,212.13 54.50,212.04 C55.00,211.96 55.50,212.06 56.00,212.07 C56.50,212.07 57.00,212.18 57.50,212.09 C58.00,212.00 58.50,211.70 59.00,211.54 C59.50,211.38 60.00,211.21 60.50,211.14 C61.00,211.07 61.50,211.02 62.00,211.12 C62.50,211.22 63.00,211.48 63.50,211.72 C64.00,211.96 64.50,212.34 65.00,212.55 C65.50,212.76 66.00,212.93 66.50,212.97 C67.00,213.02 67.50,212.87 68.00,212.82 C68.50,212.77 69.00,212.63 69.50,212.67 C70.00,212.71 70.50,212.89 71.00,213.05 C71.50,213.20 72.00,213.45 72.50,213.59 C73.00,213.73 73.50,214.00 74.00,213.90 C74.50,213.80 75.00,213.36 75.50,212.99 C76.00,212.62 76.50,212.06 77.00,211.70 C77.50,211.34 78.00,211.05 78.50,210.84 C79.00,210.62 79.50,210.56 80.00,210.41 C80.50,210.25 81.00,210.18 81.50,209.92 C82.00,209.67 82.50,209.29 83.00,208.87 C83.50,208.44 84.00,207.84 84.50,207.38 C85.00,206.92 85.50,206.44 86.00,206.12 C86.50,205.81 87.00,205.58 87.50,205.49 C88.00,205.40 88.50,205.56 89.00,205.58 C89.50,205.59 90.00,205.66 90.50,205.56 C91.00,205.45 91.50,205.16 92.00,204.96 C92.50,204.77 93.00,204.46 93.50,204.37 C94.00,204.28 94.50,204.32 95.00,204.41 C95.50,204.50 96.00,204.78 96.50,204.91 C97.00,205.03 97.50,205.18 98.00,205.17 C98.50,205.15 99.00,204.95 99.50,204.81 C100.00,204.66 100.50,204.38 101.00,204.29 C101.50,204.19 102.00,204.16 102.50,204.24 C103.00,204.32 103.50,204.59 104.00,204.76 C104.50,204.93 105.00,205.20 105.50,205.28 C106.00,205.36 106.50,205.34 107.00,205.23 C107.50,205.12 108.00,204.80 108.50,204.63 C109.00,204.46 109.50,204.24 110.00,204.20 C110.50,204.16 111.00,204.29 111.50,204.39 C112.00,204.49 112.50,204.74 113.00,204.81 C113.50,204.88 114.00,204.91 114.50,204.80 C115.00,204.70 115.50,204.39 116.00,204.18 C116.50,203.97 117.00,203.66 117.50,203.54 C118.00,203.42 118.50,203.42 119.00,203.47 C119.50,203.52 120.00,203.75 120.50,203.83 C121.00,203.91 121.50,204.06 122.00,203.96 C122.50,203.86 123.00,203.54 123.50,203.24 C124.00,202.95 124.50,202.46 125.00,202.18 C125.50,201.90 126.00,201.67 126.50,201.55 C127.00,201.44 127.50,201.51 128.00,201.49 C128.50,201.47 129.00,201.51 129.50,201.44 C130.00,201.36 130.50,201.21 131.00,201.02 C131.50,200.83 132.00,200.48 132.50,200.28 C133.00,200.07 133.50,199.83 134.00,199.77 C134.50,199.70 135.00,199.80 135.50,199.88 C136.00,199.95 136.50,200.16 137.00,200.22 C137.50,200.28 138.00,200.33 138.50,200.26 C139.00,200.19 139.50,199.95 140.00,199.80 C140.50,199.65 141.00,199.40 141.50,199.34 C142.00,199.28 142.50,199.34 143.00,199.45 C143.50,199.56 144.00,199.84 144.50,199.99 C145.00,200.14 145.50,200.32 146.00,200.34 C146.50,200.36 147.00,200.21 147.50,200.09 C148.00,199.97 148.50,199.70 149.00,199.61 C149.50,199.52 150.00,199.48 150.50,199.56 C151.00,199.64 151.50,199.90 152.00,200.08 C152.50,200.26 153.00,200.55 153.50,200.66 C154.00,200.76 154.50,200.75 155.00,200.69 C155.50,200.62 156.00,200.38 156.50,200.28 C157.00,200.19 157.50,200.07 158.00,200.11 C158.50,200.16 159.00,200.28 159.50,200.56 C160.00,200.85 160.50,201.43 161.00,201.82 C161.50,202.21 162.00,202.65 162.50,202.93 C163.00,203.20 163.50,203.22 164.00,203.47 C164.50,203.71 165.00,204.02 165.50,204.38 C166.00,204.74 166.50,205.43 167.00,205.63 C167.50,205.83 168.00,205.64 168.50,205.58 C169.00,205.53 169.50,205.48 170.00,205.30 C170.50,205.11 171.00,204.77 171.50,204.46 C172.00,204.14 172.50,203.69 173.00,203.41 C173.50,203.14 174.00,202.87 174.50,202.80 C175.00,202.74 175.75,202.97 176.00,203.00" fill="none" stroke="#d8a8d8" stroke-width="1.2" opacity="0.8"/>
<path d="M41.00,215.15 C41.25,215.19 42.00,215.39 42.50,215.36 C43.00,215.34 43.50,215.08 44.00,215.00 C44.50,214.92 45.00,214.84 45.50,214.90 C46.00,214.96 46.50,215.14 47.00,215.37 C47.50,215.60 48.00,216.09 48.50,216.27 C49.00,216.45 49.50,216.52 50.00,216.43 C50.50,216.34 51.00,216.00 51.50,215.72 C52.00,215.45 52.50,215.03 53.00,214.78 C53.50,214.53 54.00,214.33 54.50,214.24 C55.00,214.16 55.50,214.26 56.00,214.27 C56.50,214.27 57.00,214.38 57.50,214.29 C58.00,214.20 58.50,213.90 59.00,213.74 C59.50,213.58 60.00,213.41 60.50,213.34 C61.00,213.27 61.50,213.22 62.00,213.32 C62.50,213.42 63.00,213.68 63.50,213.92 C64.00,214.16 64.50,214.54 65.00,214.75 C65.50,214.96 66.00,215.13 66.50,215.17 C67.00,215.22 67.50,215.07 68.00,215.02 C68.50,214.97 69.00,214.83 69.50,214.87 C70.00,214.91 70.50,215.09 71.00,215.25 C71.50,215.40 72.00,215.65 72.50,215.79 C73.00,215.93 73.50,216.20 74.00,216.10 C74.50,216.00 75.00,215.56 75.50,215.19 C76.00,214.82 76.50,214.26 77.00,213.90 C77.50,213.54 78.00,213.25 78.50,213.04 C79.00,212.82 79.50,212.76 80.00,212.61 C80.50,212.45 81.00,212.38 81.50,212.12 C82.00,211.87 82.50,211.49 83.00,211.07 C83.50,210.64 84.00,210.04 84.50,209.58 C85.00,209.12 85.50,208.64 86.00,208.32 C86.50,208.01 87.00,207.78 87.50,207.69 C88.00,207.60 88.50,207.76 89.00,207.78 C89.50,207.79 90.00,207.86 90.50,207.76 C91.00,207.65 91.50,207.36 92.00,207.16 C92.50,206.97 93.00,206.66 93.50,206.57 C94.00,206.48 94.50,206.52 95.00,206.61 C95.50,206.70 96.00,206.98 96.50,207.11 C97.00,207.23 97.50,207.38 98.00,207.37 C98.50,207.35 99.00,207.15 99.50,207.01 C100.00,206.86 100.50,206.58 101.00,206.49 C101.50,206.39 102.00,206.36 102.50,206.44 C103.00,206.52 103.50,206.79 104.00,206.96 C104.50,207.13 105.00,207.40 105.50,207.48 C106.00,207.56 106.50,207.54 107.00,207.43 C107.50,207.32 108.00,207.00 108.50,206.83 C109.00,206.66 109.50,206.44 110.00,206.40 C110.50,206.36 111.00,206.49 111.50,206.59 C112.00,206.69 112.50,206.94 113.00,207.01 C113.50,207.08 114.00,207.11 114.50,207.00 C115.00,206.90 115.50,206.59 116.00,206.38 C116.50,206.17 117.00,205.86 117.50,205.74 C118.00,205.62 118.50,205.62 119.00,205.67 C119.50,205.72 120.00,205.95 120.50,206.03 C121.00,206.11 121.50,206.26 122.00,206.16 C122.50,206.06 123.00,205.74 123.50,205.44 C124.00,205.15 124.50,204.66 125.00,204.38 C125.50,204.10 126.00,203.87 126.50,203.75 C127.00,203.64 127.50,203.71 128.00,203.69 C128.50,203.67 129.00,203.71 129.50,203.64 C130.00,203.56 130.50,203.41 131.00,203.22 C131.50,203.03 132.00,202.68 132.50,202.48 C133.00,202.27 133.50,202.03 134.00,201.97 C134.50,201.90 135.00,202.00 135.50,202.08 C136.00,202.15 136.50,202.36 137.00,202.42 C137.50,202.48 138.00,202.53 138.50,202.46 C139.00,202.39 139.50,202.15 140.00,202.00 C140.50,201.85 141.00,201.60 141.50,201.54 C142.00,201.48 142.50,201.54 143.00,201.65 C143.50,201.76 144.00,202.04 144.50,202.19 C145.00,202.34 145.50,202.52 146.00,202.54 C146.50,202.56 147.00,202.41 147.50,202.29 C148.00,202.17 148.50,201.90 149.00,201.81 C149.50,201.72 150.00,201.68 150.50,201.76 C151.00,201.84 151.50,202.10 152.00,202.28 C152.50,202.46 153.00,202.75 153.50,202.86 C154.00,202.96 154.50,202.95 155.00,202.89 C155.50,202.82 156.00,202.58 156.50,202.48 C157.00,202.39 157.50,202.27 158.00,202.31 C158.50,202.36 159.00,202.48 159.50,202.76 C160.00,203.05 160.50,203.63 161.00,204.02 C161.50,204.41 162.00,204.85 162.50,205.13 C163.00,205.40 163.50,205.42 164.00,205.67 C164.50,205.91 165.00,206.22 165.50,206.58 C166.00,206.94 166.50,207.63 167.00,207.83 C167.50,208.03 168.00,207.84 168.50,207.78 C169.00,207.73 169.50,207.68 170.00,207.50 C170.50,207.31 171.00,206.97 171.50,206.66 C172.00,206.34 172.50,205.89 173.00,205.61 C173.50,205.34 174.00,205.07 174.50,205.00 C175.00,204.94 175.75,205.17 176.00,205.20" fill="none" stroke="#4a1068" stroke-width="3.0"/>
<path d="M41.00,289.51 C41.25,289.51 42.00,289.47 42.50,289.52 C43.00,289.56 43.50,289.72 44.00,289.79 C44.50,289.87 45.00,289.96 45.50,289.95 C46.00,289.94 46.50,289.84 47.00,289.72 C47.50,289.60 48.00,289.36 48.50,289.22 C49.00,289.07 49.50,288.89 50.00,288.83 C50.50,288.77 51.00,288.79 51.50,288.84 C52.00,288.88 52.50,289.04 53.00,289.11 C53.50,289.19 54.00,289.29 54.50,289.27 C55.00,289.26 55.50,289.16 56.00,289.02 C56.50,288.89 57.00,288.62 57.50,288.45 C58.00,288.28 58.50,288.08 59.00,288.00 C59.50,287.91 60.00,287.91 60.50,287.93 C61.00,287.96 61.50,288.03 62.00,288.14 C62.50,288.25 63.00,288.38 63.50,288.58 C64.00,288.77 64.50,289.11 65.00,289.31 C65.50,289.52 66.00,289.61 66.50,289.78 C67.00,289.96 67.50,290.11 68.00,290.37 C68.50,290.63 69.00,291.00 69.50,291.34 C70.00,291.68 70.50,292.09 71.00,292.42 C71.50,292.74 72.00,293.06 72.50,293.29 C73.00,293.52 73.50,293.66 74.00,293.77 C74.50,293.89 75.00,293.97 75.50,293.98 C76.00,293.99 76.50,293.87 77.00,293.85 C77.50,293.83 78.00,293.82 78.50,293.88 C79.00,293.93 79.50,294.10 80.00,294.18 C80.50,294.26 81.00,294.36 81.50,294.36 C82.00,294.36 82.50,294.27 83.00,294.15 C83.50,294.04 84.00,293.81 84.50,293.67 C85.00,293.53 85.50,293.39 86.00,293.31 C86.50,293.23 87.00,293.18 87.50,293.18 C88.00,293.18 88.50,293.29 89.00,293.32 C89.50,293.35 90.00,293.40 90.50,293.34 C91.00,293.28 91.50,293.14 92.00,292.97 C92.50,292.80 93.00,292.52 93.50,292.33 C94.00,292.14 94.50,291.91 95.00,291.81 C95.50,291.71 96.00,291.69 96.50,291.70 C97.00,291.72 97.50,291.84 98.00,291.89 C98.50,291.93 99.00,291.99 99.50,291.95 C100.00,291.90 100.50,291.78 101.00,291.62 C101.50,291.47 102.00,291.20 102.50,291.02 C103.00,290.84 103.50,290.64 104.00,290.54 C104.50,290.45 105.00,290.44 105.50,290.45 C106.00,290.47 106.50,290.59 107.00,290.64 C107.50,290.68 108.00,290.74 108.50,290.70 C109.00,290.65 109.50,290.55 110.00,290.37 C110.50,290.19 111.00,289.85 111.50,289.62 C112.00,289.39 112.50,289.13 113.00,288.99 C113.50,288.84 114.00,288.78 114.50,288.75 C115.00,288.71 115.50,288.78 116.00,288.77 C116.50,288.76 117.00,288.78 117.50,288.68 C118.00,288.59 118.50,288.41 119.00,288.20 C119.50,288.00 120.00,287.67 120.50,287.45 C121.00,287.23 121.50,287.00 122.00,286.88 C122.50,286.76 123.00,286.72 123.50,286.71 C124.00,286.70 124.50,286.80 125.00,286.82 C125.50,286.83 126.00,286.87 126.50,286.80 C127.00,286.73 127.50,286.58 128.00,286.40 C128.50,286.22 129.00,285.93 129.50,285.72 C130.00,285.52 130.50,285.29 131.00,285.16 C131.50,285.04 132.00,285.01 132.50,285.00 C133.00,284.99 133.50,285.09 134.00,285.10 C134.50,285.12 135.00,285.16 135.50,285.09 C136.00,285.02 136.50,284.86 137.00,284.68 C137.50,284.50 138.00,284.21 138.50,284.01 C139.00,283.80 139.50,283.57 140.00,283.45 C140.50,283.33 141.00,283.31 141.50,283.28 C142.00,283.25 142.50,283.31 143.00,283.26 C143.50,283.21 144.00,283.14 144.50,282.98 C145.00,282.82 145.50,282.57 146.00,282.30 C146.50,282.03 147.00,281.65 147.50,281.36 C148.00,281.06 148.50,280.74 149.00,280.53 C149.50,280.32 150.00,280.19 150.50,280.09 C151.00,279.99 151.50,280.00 152.00,279.93 C152.50,279.85 153.00,279.80 153.50,279.64 C154.00,279.48 154.50,279.24 155.00,278.97 C155.50,278.70 156.00,278.32 156.50,278.02 C157.00,277.73 157.50,277.39 158.00,277.19 C158.50,277.00 159.00,276.91 159.50,276.84 C160.00,276.78 160.50,276.84 161.00,276.80 C161.50,276.77 162.00,276.76 162.50,276.64 C163.00,276.53 163.50,276.32 164.00,276.10 C164.50,275.87 165.00,275.53 165.50,275.28 C166.00,275.02 166.50,274.74 167.00,274.57 C167.50,274.41 168.00,274.32 168.50,274.26 C169.00,274.21 169.50,274.26 170.00,274.22 C170.50,274.19 171.00,274.18 171.50,274.07 C172.00,273.95 172.50,273.75 173.00,273.52 C173.50,273.29 174.00,272.95 174.50,272.70 C175.00,272.44 175.75,272.11 176.00,272.00" fill="none" stroke="#d8a8d8" stroke-width="1.2" opacity="0.8"/>
<path d="M41.00,287.41 C41.25,287.41 42.00,287.37 42.50,287.42 C43.00,287.46 43.50,287.62 44.00,287.69 C44.50,287.77 45.00,287.86 45.50,287.85 C46.00,287.84 46.50,287.74 47.00,287.62 C47.50,287.50 48.00,287.26 48.50,287.12 C49.00,286.97 49.50,286.79 50.00,286.73 C50.50,286.67 51.00,286.69 51.50,286.74 C52.00,286.78 52.50,286.94 53.00,287.01 C53.50,287.09 54.00,287.19 54.50,287.17 C55.00,287.16 55.50,287.06 56.00,286.92 C56.50,286.79 57.00,286.52 57.50,286.35 C58.00,286.18 58.50,285.98 59.00,285.90 C59.50,285.81 60.00,285.81 60.50,285.83 C61.00,285.86 61.50,285.93 62.00,286.04 C62.50,286.15 63.00,286.28 63.50,286.48 C64.00,286.67 64.50,287.01 65.00,287.21 C65.50,287.42 66.00,287.51 66.50,287.68 C67.00,287.86 67.50,288.01 68.00,288.27 C68.50,288.53 69.00,288.90 69.50,289.24 C70.00,289.58 70.50,289.99 71.00,290.32 C71.50,290.64 72.00,290.96 72.50,291.19 C73.00,291.42 73.50,291.56 74.00,291.67 C74.50,291.79 75.00,291.87 75.50,291.88 C76.00,291.89 76.50,291.77 77.00,291.75 C77.50,291.73 78.00,291.72 78.50,291.78 C79.00,291.83 79.50,292.00 80.00,292.08 C80.50,292.16 81.00,292.26 81.50,292.26 C82.00,292.26 82.50,292.17 83.00,292.05 C83.50,291.94 84.00,291.71 84.50,291.57 C85.00,291.43 85.50,291.29 86.00,291.21 C86.50,291.13 87.00,291.08 87.50,291.08 C88.00,291.08 88.50,291.19 89.00,291.22 C89.50,291.25 90.00,291.30 90.50,291.24 C91.00,291.18 91.50,291.04 92.00,290.87 C92.50,290.70 93.00,290.42 93.50,290.23 C94.00,290.04 94.50,289.81 95.00,289.71 C95.50,289.61 96.00,289.59 96.50,289.60 C97.00,289.62 97.50,289.74 98.00,289.79 C98.50,289.83 99.00,289.89 99.50,289.85 C100.00,289.80 100.50,289.68 101.00,289.52 C101.50,289.37 102.00,289.10 102.50,288.92 C103.00,288.74 103.50,288.54 104.00,288.44 C104.50,288.35 105.00,288.34 105.50,288.35 C106.00,288.37 106.50,288.49 107.00,288.54 C107.50,288.58 108.00,288.64 108.50,288.60 C109.00,288.55 109.50,288.45 110.00,288.27 C110.50,288.09 111.00,287.75 111.50,287.52 C112.00,287.29 112.50,287.03 113.00,286.89 C113.50,286.74 114.00,286.68 114.50,286.65 C115.00,286.61 115.50,286.68 116.00,286.67 C116.50,286.66 117.00,286.68 117.50,286.58 C118.00,286.49 118.50,286.31 119.00,286.10 C119.50,285.90 120.00,285.57 120.50,285.35 C121.00,285.13 121.50,284.90 122.00,284.78 C122.50,284.66 123.00,284.62 123.50,284.61 C124.00,284.60 124.50,284.70 125.00,284.72 C125.50,284.73 126.00,284.77 126.50,284.70 C127.00,284.63 127.50,284.48 128.00,284.30 C128.50,284.12 129.00,283.83 129.50,283.62 C130.00,283.42 130.50,283.19 131.00,283.06 C131.50,282.94 132.00,282.91 132.50,282.90 C133.00,282.89 133.50,282.99 134.00,283.00 C134.50,283.02 135.00,283.06 135.50,282.99 C136.00,282.92 136.50,282.76 137.00,282.58 C137.50,282.40 138.00,282.11 138.50,281.91 C139.00,281.70 139.50,281.47 140.00,281.35 C140.50,281.23 141.00,281.21 141.50,281.18 C142.00,281.15 142.50,281.21 143.00,281.16 C143.50,281.11 144.00,281.04 144.50,280.88 C145.00,280.72 145.50,280.47 146.00,280.20 C146.50,279.93 147.00,279.55 147.50,279.26 C148.00,278.96 148.50,278.64 149.00,278.43 C149.50,278.22 150.00,278.09 150.50,277.99 C151.00,277.89 151.50,277.90 152.00,277.83 C152.50,277.75 153.00,277.70 153.50,277.54 C154.00,277.38 154.50,277.14 155.00,276.87 C155.50,276.60 156.00,276.22 156.50,275.92 C157.00,275.63 157.50,275.29 158.00,275.09 C158.50,274.90 159.00,274.81 159.50,274.74 C160.00,274.68 160.50,274.74 161.00,274.70 C161.50,274.67 162.00,274.66 162.50,274.54 C163.00,274.43 163.50,274.22 164.00,274.00 C164.50,273.77 165.00,273.43 165.50,273.18 C166.00,272.92 166.50,272.64 167.00,272.47 C167.50,272.31 168.00,272.22 168.50,272.16 C169.00,272.11 169.50,272.16 170.00,272.12 C170.50,272.09 171.00,272.08 171.50,271.97 C172.00,271.85 172.50,271.65 173.00,271.42 C173.50,271.19 174.00,270.85 174.50,270.60 C175.00,270.34 175.75,270.01 176.00,269.90" fill="none" stroke="#4a1068" stroke-width="3.0"/>
</g>
<clipPath id="clip2"><rect x="190.2" y="200.3" width="133.40000000000003" height="100.30000000000001"/></clipPath>
<g clip-path="url(#clip2)">
<rect x="190.2" y="200.3" width="133.40000000000003" height="100.30000000000001" fill="#cfcdbf"/>
<path d="M189.00,241.01 C189.25,240.75 190.00,240.05 190.50,239.45 C191.00,238.85 191.50,238.18 192.00,237.42 C192.50,236.67 193.00,235.62 193.50,234.94 C194.00,234.25 194.50,233.78 195.00,233.30 C195.50,232.82 196.00,232.60 196.50,232.06 C197.00,231.52 197.50,230.66 198.00,230.07 C198.50,229.49 199.00,228.98 199.50,228.55 C200.00,228.12 200.50,227.84 201.00,227.49 C201.50,227.14 202.00,226.77 202.50,226.46 C203.00,226.14 203.50,225.77 204.00,225.61 C204.50,225.46 205.00,225.63 205.50,225.52 C206.00,225.41 206.50,225.23 207.00,224.96 C207.50,224.70 208.00,224.16 208.50,223.95 C209.00,223.73 209.50,223.67 210.00,223.67 C210.50,223.68 211.00,223.97 211.50,223.96 C212.00,223.94 212.50,223.62 213.00,223.58 C213.50,223.53 214.00,223.55 214.50,223.66 C215.00,223.76 215.50,224.14 216.00,224.20 C216.50,224.26 217.00,224.06 217.50,223.99 C218.00,223.93 218.50,223.73 219.00,223.79 C219.50,223.85 220.00,224.18 220.50,224.33 C221.00,224.49 221.50,224.61 222.00,224.72 C222.50,224.83 223.00,224.78 223.50,225.00 C224.00,225.22 224.50,225.68 225.00,226.02 C225.50,226.36 226.00,226.83 226.50,227.05 C227.00,227.26 227.50,227.14 228.00,227.32 C228.50,227.50 229.00,227.79 229.50,228.13 C230.00,228.48 230.50,229.10 231.00,229.40 C231.50,229.70 232.00,229.75 232.50,229.92 C233.00,230.10 233.50,230.28 234.00,230.45 C234.50,230.61 235.00,230.90 235.50,230.90 C236.00,230.91 236.50,230.71 237.00,230.49 C237.50,230.28 238.00,229.79 238.50,229.62 C239.00,229.46 239.50,229.58 240.00,229.50 C240.50,229.42 241.00,229.40 241.50,229.16 C242.00,228.92 242.50,228.36 243.00,228.07 C243.50,227.79 244.00,227.58 244.50,227.45 C245.00,227.32 245.50,227.39 246.00,227.29 C246.50,227.18 247.00,226.98 247.50,226.82 C248.00,226.67 248.50,226.39 249.00,226.36 C249.50,226.34 250.00,226.63 250.50,226.65 C251.00,226.67 251.50,226.60 252.00,226.48 C252.50,226.35 253.00,225.98 253.50,225.92 C254.00,225.86 254.50,226.05 255.00,226.11 C255.50,226.18 256.00,226.36 256.50,226.30 C257.00,226.24 257.50,225.86 258.00,225.75 C258.50,225.64 259.00,225.57 259.50,225.65 C260.00,225.74 260.50,226.17 261.00,226.27 C261.50,226.36 262.00,226.26 262.50,226.25 C263.00,226.25 263.50,226.12 264.00,226.24 C264.50,226.36 265.00,226.79 265.50,226.97 C266.00,227.15 266.50,227.27 267.00,227.32 C267.50,227.37 268.00,227.16 268.50,227.27 C269.00,227.37 269.50,227.73 270.00,227.96 C270.50,228.19 271.00,228.55 271.50,228.65 C272.00,228.75 272.50,228.50 273.00,228.54 C273.50,228.57 274.00,228.67 274.50,228.85 C275.00,229.04 275.50,229.49 276.00,229.63 C276.50,229.77 277.00,229.65 277.50,229.70 C278.00,229.75 278.50,229.73 279.00,229.94 C279.50,230.14 280.00,230.66 280.50,230.91 C281.00,231.16 281.50,231.35 282.00,231.43 C282.50,231.51 283.00,231.31 283.50,231.39 C284.00,231.47 284.50,231.73 285.00,231.90 C285.50,232.07 286.00,232.37 286.50,232.41 C287.00,232.46 287.50,232.26 288.00,232.18 C288.50,232.10 289.00,231.96 289.50,231.94 C290.00,231.91 290.50,232.13 291.00,232.04 C291.50,231.95 292.00,231.61 292.50,231.40 C293.00,231.18 293.50,230.78 294.00,230.75 C294.50,230.73 295.00,231.04 295.50,231.27 C296.00,231.50 296.50,231.93 297.00,232.14 C297.50,232.35 298.00,232.29 298.50,232.55 C299.00,232.81 299.50,233.32 300.00,233.71 C300.50,234.10 301.00,234.73 301.50,234.87 C302.00,235.01 302.50,234.60 303.00,234.55 C303.50,234.51 304.00,234.50 304.50,234.59 C305.00,234.67 305.50,235.04 306.00,235.08 C306.50,235.12 307.00,234.91 307.50,234.83 C308.00,234.75 308.50,234.54 309.00,234.58 C309.50,234.62 310.00,235.07 310.50,235.07 C311.00,235.07 311.50,234.83 312.00,234.58 C312.50,234.34 313.00,233.80 313.50,233.59 C314.00,233.39 314.50,233.43 315.00,233.35 C315.50,233.28 316.00,233.32 316.50,233.14 C317.00,232.95 317.50,232.45 318.00,232.23 C318.50,232.00 319.00,231.85 319.50,231.78 C320.00,231.71 320.50,231.91 321.00,231.79 C321.50,231.68 322.00,231.33 322.50,231.11 C323.00,230.88 323.75,230.57 324.00,230.46 L324.00,279.45 C323.75,279.47 323.00,279.64 322.50,279.58 C322.00,279.53 321.50,279.21 321.00,279.09 C320.50,278.98 320.00,278.84 319.50,278.90 C319.00,278.96 318.50,279.34 318.00,279.47 C317.50,279.61 317.00,279.76 316.50,279.72 C316.00,279.67 315.50,279.44 315.00,279.21 C314.50,278.98 314.00,278.53 313.50,278.34 C313.00,278.14 312.50,278.03 312.00,278.04 C311.50,278.05 311.00,278.30 310.50,278.38 C310.00,278.46 309.50,278.59 309.00,278.51 C308.50,278.42 308.00,278.09 307.50,277.87 C307.00,277.65 306.50,277.29 306.00,277.18 C305.50,277.08 305.00,277.17 304.50,277.25 C304.00,277.34 303.50,277.64 303.00,277.69 C302.50,277.74 302.00,277.70 301.50,277.55 C301.00,277.40 300.50,277.03 300.00,276.78 C299.50,276.52 299.00,276.19 298.50,276.04 C298.00,275.90 297.50,275.94 297.00,275.90 C296.50,275.86 296.00,275.96 295.50,275.80 C295.00,275.64 294.50,275.30 294.00,274.95 C293.50,274.61 293.00,274.04 292.50,273.73 C292.00,273.42 291.50,273.20 291.00,273.09 C290.50,272.98 290.00,273.13 289.50,273.08 C289.00,273.03 288.50,273.00 288.00,272.80 C287.50,272.61 287.00,272.20 286.50,271.89 C286.00,271.58 285.50,271.13 285.00,270.94 C284.50,270.74 284.00,270.74 283.50,270.73 C283.00,270.73 282.50,270.94 282.00,270.90 C281.50,270.86 281.00,270.73 280.50,270.49 C280.00,270.24 279.50,269.74 279.00,269.44 C278.50,269.14 278.00,268.78 277.50,268.70 C277.00,268.62 276.50,268.85 276.00,268.96 C275.50,269.06 275.00,269.32 274.50,269.31 C274.00,269.31 273.50,269.12 273.00,268.92 C272.50,268.73 272.00,268.32 271.50,268.16 C271.00,268.00 270.50,267.94 270.00,267.98 C269.50,268.03 269.00,268.33 268.50,268.43 C268.00,268.53 267.50,268.65 267.00,268.58 C266.50,268.51 266.00,268.20 265.50,268.03 C265.00,267.85 264.50,267.56 264.00,267.52 C263.50,267.47 263.00,267.62 262.50,267.76 C262.00,267.90 261.50,268.27 261.00,268.37 C260.50,268.48 260.00,268.50 259.50,268.41 C259.00,268.31 258.50,267.96 258.00,267.81 C257.50,267.66 257.00,267.48 256.50,267.51 C256.00,267.54 255.50,267.79 255.00,267.97 C254.50,268.16 254.00,268.51 253.50,268.60 C253.00,268.69 252.50,268.60 252.00,268.51 C251.50,268.41 251.00,268.10 250.50,268.04 C250.00,267.98 249.50,268.01 249.00,268.16 C248.50,268.30 248.00,268.71 247.50,268.91 C247.00,269.11 246.50,269.33 246.00,269.35 C245.50,269.38 245.00,269.12 244.50,269.04 C244.00,268.95 243.50,268.75 243.00,268.86 C242.50,268.97 242.00,269.36 241.50,269.70 C241.00,270.05 240.50,270.61 240.00,270.92 C239.50,271.23 239.00,271.45 238.50,271.56 C238.00,271.66 237.50,271.51 237.00,271.56 C236.50,271.61 236.00,271.63 235.50,271.86 C235.00,272.09 234.50,272.57 234.00,272.93 C233.50,273.29 233.00,273.87 232.50,274.04 C232.00,274.22 231.50,274.07 231.00,273.98 C230.50,273.89 230.00,273.57 229.50,273.51 C229.00,273.45 228.50,273.49 228.00,273.63 C227.50,273.77 227.00,274.18 226.50,274.38 C226.00,274.58 225.50,274.80 225.00,274.83 C224.50,274.85 224.00,274.62 223.50,274.51 C223.00,274.39 222.50,274.16 222.00,274.15 C221.50,274.14 221.00,274.31 220.50,274.46 C220.00,274.61 219.50,274.97 219.00,275.07 C218.50,275.18 218.00,275.20 217.50,275.11 C217.00,275.01 216.50,274.66 216.00,274.51 C215.50,274.36 215.00,274.18 214.50,274.21 C214.00,274.24 213.50,274.51 213.00,274.67 C212.50,274.84 212.00,275.13 211.50,275.18 C211.00,275.23 210.50,275.07 210.00,274.98 C209.50,274.89 209.00,274.67 208.50,274.66 C208.00,274.65 207.50,274.73 207.00,274.93 C206.50,275.12 206.00,275.58 205.50,275.83 C205.00,276.07 204.50,276.35 204.00,276.42 C203.50,276.49 203.00,276.31 202.50,276.25 C202.00,276.19 201.50,275.99 201.00,276.04 C200.50,276.10 200.00,276.30 199.50,276.58 C199.00,276.87 198.50,277.44 198.00,277.75 C197.50,278.06 197.00,278.32 196.50,278.44 C196.00,278.56 195.50,278.42 195.00,278.49 C194.50,278.56 194.00,278.60 193.50,278.85 C193.00,279.09 192.50,279.59 192.00,279.97 C191.50,280.35 191.00,280.87 190.50,281.13 C190.00,281.39 189.25,281.47 189.00,281.54 Z" fill="#9080c0" filter="url(#m2)"/>
<clipPath id="tc2"><path d="M189.00,241.01 C189.25,240.75 190.00,240.05 190.50,239.45 C191.00,238.85 191.50,238.18 192.00,237.42 C192.50,236.67 193.00,235.62 193.50,234.94 C194.00,234.25 194.50,233.78 195.00,233.30 C195.50,232.82 196.00,232.60 196.50,232.06 C197.00,231.52 197.50,230.66 198.00,230.07 C198.50,229.49 199.00,228.98 199.50,228.55 C200.00,228.12 200.50,227.84 201.00,227.49 C201.50,227.14 202.00,226.77 202.50,226.46 C203.00,226.14 203.50,225.77 204.00,225.61 C204.50,225.46 205.00,225.63 205.50,225.52 C206.00,225.41 206.50,225.23 207.00,224.96 C207.50,224.70 208.00,224.16 208.50,223.95 C209.00,223.73 209.50,223.67 210.00,223.67 C210.50,223.68 211.00,223.97 211.50,223.96 C212.00,223.94 212.50,223.62 213.00,223.58 C213.50,223.53 214.00,223.55 214.50,223.66 C215.00,223.76 215.50,224.14 216.00,224.20 C216.50,224.26 217.00,224.06 217.50,223.99 C218.00,223.93 218.50,223.73 219.00,223.79 C219.50,223.85 220.00,224.18 220.50,224.33 C221.00,224.49 221.50,224.61 222.00,224.72 C222.50,224.83 223.00,224.78 223.50,225.00 C224.00,225.22 224.50,225.68 225.00,226.02 C225.50,226.36 226.00,226.83 226.50,227.05 C227.00,227.26 227.50,227.14 228.00,227.32 C228.50,227.50 229.00,227.79 229.50,228.13 C230.00,228.48 230.50,229.10 231.00,229.40 C231.50,229.70 232.00,229.75 232.50,229.92 C233.00,230.10 233.50,230.28 234.00,230.45 C234.50,230.61 235.00,230.90 235.50,230.90 C236.00,230.91 236.50,230.71 237.00,230.49 C237.50,230.28 238.00,229.79 238.50,229.62 C239.00,229.46 239.50,229.58 240.00,229.50 C240.50,229.42 241.00,229.40 241.50,229.16 C242.00,228.92 242.50,228.36 243.00,228.07 C243.50,227.79 244.00,227.58 244.50,227.45 C245.00,227.32 245.50,227.39 246.00,227.29 C246.50,227.18 247.00,226.98 247.50,226.82 C248.00,226.67 248.50,226.39 249.00,226.36 C249.50,226.34 250.00,226.63 250.50,226.65 C251.00,226.67 251.50,226.60 252.00,226.48 C252.50,226.35 253.00,225.98 253.50,225.92 C254.00,225.86 254.50,226.05 255.00,226.11 C255.50,226.18 256.00,226.36 256.50,226.30 C257.00,226.24 257.50,225.86 258.00,225.75 C258.50,225.64 259.00,225.57 259.50,225.65 C260.00,225.74 260.50,226.17 261.00,226.27 C261.50,226.36 262.00,226.26 262.50,226.25 C263.00,226.25 263.50,226.12 264.00,226.24 C264.50,226.36 265.00,226.79 265.50,226.97 C266.00,227.15 266.50,227.27 267.00,227.32 C267.50,227.37 268.00,227.16 268.50,227.27 C269.00,227.37 269.50,227.73 270.00,227.96 C270.50,228.19 271.00,228.55 271.50,228.65 C272.00,228.75 272.50,228.50 273.00,228.54 C273.50,228.57 274.00,228.67 274.50,228.85 C275.00,229.04 275.50,229.49 276.00,229.63 C276.50,229.77 277.00,229.65 277.50,229.70 C278.00,229.75 278.50,229.73 279.00,229.94 C279.50,230.14 280.00,230.66 280.50,230.91 C281.00,231.16 281.50,231.35 282.00,231.43 C282.50,231.51 283.00,231.31 283.50,231.39 C284.00,231.47 284.50,231.73 285.00,231.90 C285.50,232.07 286.00,232.37 286.50,232.41 C287.00,232.46 287.50,232.26 288.00,232.18 C288.50,232.10 289.00,231.96 289.50,231.94 C290.00,231.91 290.50,232.13 291.00,232.04 C291.50,231.95 292.00,231.61 292.50,231.40 C293.00,231.18 293.50,230.78 294.00,230.75 C294.50,230.73 295.00,231.04 295.50,231.27 C296.00,231.50 296.50,231.93 297.00,232.14 C297.50,232.35 298.00,232.29 298.50,232.55 C299.00,232.81 299.50,233.32 300.00,233.71 C300.50,234.10 301.00,234.73 301.50,234.87 C302.00,235.01 302.50,234.60 303.00,234.55 C303.50,234.51 304.00,234.50 304.50,234.59 C305.00,234.67 305.50,235.04 306.00,235.08 C306.50,235.12 307.00,234.91 307.50,234.83 C308.00,234.75 308.50,234.54 309.00,234.58 C309.50,234.62 310.00,235.07 310.50,235.07 C311.00,235.07 311.50,234.83 312.00,234.58 C312.50,234.34 313.00,233.80 313.50,233.59 C314.00,233.39 314.50,233.43 315.00,233.35 C315.50,233.28 316.00,233.32 316.50,233.14 C317.00,232.95 317.50,232.45 318.00,232.23 C318.50,232.00 319.00,231.85 319.50,231.78 C320.00,231.71 320.50,231.91 321.00,231.79 C321.50,231.68 322.00,231.33 322.50,231.11 C323.00,230.88 323.75,230.57 324.00,230.46 L324.00,279.45 C323.75,279.47 323.00,279.64 322.50,279.58 C322.00,279.53 321.50,279.21 321.00,279.09 C320.50,278.98 320.00,278.84 319.50,278.90 C319.00,278.96 318.50,279.34 318.00,279.47 C317.50,279.61 317.00,279.76 316.50,279.72 C316.00,279.67 315.50,279.44 315.00,279.21 C314.50,278.98 314.00,278.53 313.50,278.34 C313.00,278.14 312.50,278.03 312.00,278.04 C311.50,278.05 311.00,278.30 310.50,278.38 C310.00,278.46 309.50,278.59 309.00,278.51 C308.50,278.42 308.00,278.09 307.50,277.87 C307.00,277.65 306.50,277.29 306.00,277.18 C305.50,277.08 305.00,277.17 304.50,277.25 C304.00,277.34 303.50,277.64 303.00,277.69 C302.50,277.74 302.00,277.70 301.50,277.55 C301.00,277.40 300.50,277.03 300.00,276.78 C299.50,276.52 299.00,276.19 298.50,276.04 C298.00,275.90 297.50,275.94 297.00,275.90 C296.50,275.86 296.00,275.96 295.50,275.80 C295.00,275.64 294.50,275.30 294.00,274.95 C293.50,274.61 293.00,274.04 292.50,273.73 C292.00,273.42 291.50,273.20 291.00,273.09 C290.50,272.98 290.00,273.13 289.50,273.08 C289.00,273.03 288.50,273.00 288.00,272.80 C287.50,272.61 287.00,272.20 286.50,271.89 C286.00,271.58 285.50,271.13 285.00,270.94 C284.50,270.74 284.00,270.74 283.50,270.73 C283.00,270.73 282.50,270.94 282.00,270.90 C281.50,270.86 281.00,270.73 280.50,270.49 C280.00,270.24 279.50,269.74 279.00,269.44 C278.50,269.14 278.00,268.78 277.50,268.70 C277.00,268.62 276.50,268.85 276.00,268.96 C275.50,269.06 275.00,269.32 274.50,269.31 C274.00,269.31 273.50,269.12 273.00,268.92 C272.50,268.73 272.00,268.32 271.50,268.16 C271.00,268.00 270.50,267.94 270.00,267.98 C269.50,268.03 269.00,268.33 268.50,268.43 C268.00,268.53 267.50,268.65 267.00,268.58 C266.50,268.51 266.00,268.20 265.50,268.03 C265.00,267.85 264.50,267.56 264.00,267.52 C263.50,267.47 263.00,267.62 262.50,267.76 C262.00,267.90 261.50,268.27 261.00,268.37 C260.50,268.48 260.00,268.50 259.50,268.41 C259.00,268.31 258.50,267.96 258.00,267.81 C257.50,267.66 257.00,267.48 256.50,267.51 C256.00,267.54 255.50,267.79 255.00,267.97 C254.50,268.16 254.00,268.51 253.50,268.60 C253.00,268.69 252.50,268.60 252.00,268.51 C251.50,268.41 251.00,268.10 250.50,268.04 C250.00,267.98 249.50,268.01 249.00,268.16 C248.50,268.30 248.00,268.71 247.50,268.91 C247.00,269.11 246.50,269.33 246.00,269.35 C245.50,269.38 245.00,269.12 244.50,269.04 C244.00,268.95 243.50,268.75 243.00,268.86 C242.50,268.97 242.00,269.36 241.50,269.70 C241.00,270.05 240.50,270.61 240.00,270.92 C239.50,271.23 239.00,271.45 238.50,271.56 C238.00,271.66 237.50,271.51 237.00,271.56 C236.50,271.61 236.00,271.63 235.50,271.86 C235.00,272.09 234.50,272.57 234.00,272.93 C233.50,273.29 233.00,273.87 232.50,274.04 C232.00,274.22 231.50,274.07 231.00,273.98 C230.50,273.89 230.00,273.57 229.50,273.51 C229.00,273.45 228.50,273.49 228.00,273.63 C227.50,273.77 227.00,274.18 226.50,274.38 C226.00,274.58 225.50,274.80 225.00,274.83 C224.50,274.85 224.00,274.62 223.50,274.51 C223.00,274.39 222.50,274.16 222.00,274.15 C221.50,274.14 221.00,274.31 220.50,274.46 C220.00,274.61 219.50,274.97 219.00,275.07 C218.50,275.18 218.00,275.20 217.50,275.11 C217.00,275.01 216.50,274.66 216.00,274.51 C215.50,274.36 215.00,274.18 214.50,274.21 C214.00,274.24 213.50,274.51 213.00,274.67 C212.50,274.84 212.00,275.13 211.50,275.18 C211.00,275.23 210.50,275.07 210.00,274.98 C209.50,274.89 209.00,274.67 208.50,274.66 C208.00,274.65 207.50,274.73 207.00,274.93 C206.50,275.12 206.00,275.58 205.50,275.83 C205.00,276.07 204.50,276.35 204.00,276.42 C203.50,276.49 203.00,276.31 202.50,276.25 C202.00,276.19 201.50,275.99 201.00,276.04 C200.50,276.10 200.00,276.30 199.50,276.58 C199.00,276.87 198.50,277.44 198.00,277.75 C197.50,278.06 197.00,278.32 196.50,278.44 C196.00,278.56 195.50,278.42 195.00,278.49 C194.50,278.56 194.00,278.60 193.50,278.85 C193.00,279.09 192.50,279.59 192.00,279.97 C191.50,280.35 191.00,280.87 190.50,281.13 C190.00,281.39 189.25,281.47 189.00,281.54 Z"/></clipPath>
<g clip-path="url(#tc2)">
<path d="M189.00,245.21 C189.25,244.95 190.00,244.25 190.50,243.65 C191.00,243.05 191.50,242.38 192.00,241.62 C192.50,240.87 193.00,239.82 193.50,239.14 C194.00,238.45 194.50,237.98 195.00,237.50 C195.50,237.02 196.00,236.80 196.50,236.26 C197.00,235.72 197.50,234.86 198.00,234.27 C198.50,233.69 199.00,233.18 199.50,232.75 C200.00,232.32 200.50,232.04 201.00,231.69 C201.50,231.34 202.00,230.97 202.50,230.66 C203.00,230.34 203.50,229.97 204.00,229.81 C204.50,229.66 205.00,229.83 205.50,229.72 C206.00,229.61 206.50,229.43 207.00,229.16 C207.50,228.90 208.00,228.36 208.50,228.15 C209.00,227.93 209.50,227.87 210.00,227.87 C210.50,227.88 211.00,228.17 211.50,228.16 C212.00,228.14 212.50,227.82 213.00,227.78 C213.50,227.73 214.00,227.75 214.50,227.86 C215.00,227.96 215.50,228.34 216.00,228.40 C216.50,228.46 217.00,228.26 217.50,228.19 C218.00,228.13 218.50,227.93 219.00,227.99 C219.50,228.05 220.00,228.38 220.50,228.53 C221.00,228.69 221.50,228.81 222.00,228.92 C222.50,229.03 223.00,228.98 223.50,229.20 C224.00,229.42 224.50,229.88 225.00,230.22 C225.50,230.56 226.00,231.03 226.50,231.25 C227.00,231.46 227.50,231.34 228.00,231.52 C228.50,231.70 229.00,231.99 229.50,232.33 C230.00,232.68 230.50,233.30 231.00,233.60 C231.50,233.90 232.00,233.95 232.50,234.12 C233.00,234.30 233.50,234.48 234.00,234.65 C234.50,234.81 235.00,235.10 235.50,235.10 C236.00,235.11 236.50,234.91 237.00,234.69 C237.50,234.48 238.00,233.99 238.50,233.82 C239.00,233.66 239.50,233.78 240.00,233.70 C240.50,233.62 241.00,233.60 241.50,233.36 C242.00,233.12 242.50,232.56 243.00,232.27 C243.50,231.99 244.00,231.78 244.50,231.65 C245.00,231.52 245.50,231.59 246.00,231.49 C246.50,231.38 247.00,231.18 247.50,231.02 C248.00,230.87 248.50,230.59 249.00,230.56 C249.50,230.54 250.00,230.83 250.50,230.85 C251.00,230.87 251.50,230.80 252.00,230.68 C252.50,230.55 253.00,230.18 253.50,230.12 C254.00,230.06 254.50,230.25 255.00,230.31 C255.50,230.38 256.00,230.56 256.50,230.50 C257.00,230.44 257.50,230.06 258.00,229.95 C258.50,229.84 259.00,229.77 259.50,229.85 C260.00,229.94 260.50,230.37 261.00,230.47 C261.50,230.56 262.00,230.46 262.50,230.45 C263.00,230.45 263.50,230.32 264.00,230.44 C264.50,230.56 265.00,230.99 265.50,231.17 C266.00,231.35 266.50,231.47 267.00,231.52 C267.50,231.57 268.00,231.36 268.50,231.47 C269.00,231.57 269.50,231.93 270.00,232.16 C270.50,232.39 271.00,232.75 271.50,232.85 C272.00,232.95 272.50,232.70 273.00,232.74 C273.50,232.77 274.00,232.87 274.50,233.05 C275.00,233.24 275.50,233.69 276.00,233.83 C276.50,233.97 277.00,233.85 277.50,233.90 C278.00,233.95 278.50,233.93 279.00,234.14 C279.50,234.34 280.00,234.86 280.50,235.11 C281.00,235.36 281.50,235.55 282.00,235.63 C282.50,235.71 283.00,235.51 283.50,235.59 C284.00,235.67 284.50,235.93 285.00,236.10 C285.50,236.27 286.00,236.57 286.50,236.61 C287.00,236.66 287.50,236.46 288.00,236.38 C288.50,236.30 289.00,236.16 289.50,236.14 C290.00,236.11 290.50,236.33 291.00,236.24 C291.50,236.15 292.00,235.81 292.50,235.60 C293.00,235.38 293.50,234.98 294.00,234.95 C294.50,234.93 295.00,235.24 295.50,235.47 C296.00,235.70 296.50,236.13 297.00,236.34 C297.50,236.55 298.00,236.49 298.50,236.75 C299.00,237.01 299.50,237.52 300.00,237.91 C300.50,238.30 301.00,238.93 301.50,239.07 C302.00,239.21 302.50,238.80 303.00,238.75 C303.50,238.71 304.00,238.70 304.50,238.79 C305.00,238.87 305.50,239.24 306.00,239.28 C306.50,239.32 307.00,239.11 307.50,239.03 C308.00,238.95 308.50,238.74 309.00,238.78 C309.50,238.82 310.00,239.27 310.50,239.27 C311.00,239.27 311.50,239.03 312.00,238.78 C312.50,238.54 313.00,238.00 313.50,237.79 C314.00,237.59 314.50,237.63 315.00,237.55 C315.50,237.48 316.00,237.52 316.50,237.34 C317.00,237.15 317.50,236.65 318.00,236.43 C318.50,236.20 319.00,236.05 319.50,235.98 C320.00,235.91 320.50,236.11 321.00,235.99 C321.50,235.88 322.00,235.53 322.50,235.31 C323.00,235.08 323.75,234.77 324.00,234.66" fill="none" stroke="#c878c0" stroke-width="7.0" opacity="0.55"/>
<path d="M189.00,277.14 C189.25,277.07 190.00,276.99 190.50,276.73 C191.00,276.47 191.50,275.95 192.00,275.57 C192.50,275.19 193.00,274.69 193.50,274.45 C194.00,274.20 194.50,274.16 195.00,274.09 C195.50,274.02 196.00,274.16 196.50,274.04 C197.00,273.92 197.50,273.66 198.00,273.35 C198.50,273.04 199.00,272.47 199.50,272.18 C200.00,271.90 200.50,271.70 201.00,271.64 C201.50,271.59 202.00,271.79 202.50,271.85 C203.00,271.91 203.50,272.09 204.00,272.02 C204.50,271.95 205.00,271.67 205.50,271.43 C206.00,271.18 206.50,270.72 207.00,270.53 C207.50,270.33 208.00,270.25 208.50,270.26 C209.00,270.27 209.50,270.49 210.00,270.58 C210.50,270.67 211.00,270.83 211.50,270.78 C212.00,270.73 212.50,270.44 213.00,270.27 C213.50,270.11 214.00,269.84 214.50,269.81 C215.00,269.78 215.50,269.96 216.00,270.11 C216.50,270.26 217.00,270.61 217.50,270.71 C218.00,270.80 218.50,270.78 219.00,270.67 C219.50,270.57 220.00,270.21 220.50,270.06 C221.00,269.91 221.50,269.74 222.00,269.75 C222.50,269.76 223.00,269.99 223.50,270.11 C224.00,270.22 224.50,270.45 225.00,270.43 C225.50,270.40 226.00,270.18 226.50,269.98 C227.00,269.78 227.50,269.37 228.00,269.23 C228.50,269.09 229.00,269.05 229.50,269.11 C230.00,269.17 230.50,269.49 231.00,269.58 C231.50,269.67 232.00,269.82 232.50,269.64 C233.00,269.47 233.50,268.89 234.00,268.53 C234.50,268.17 235.00,267.69 235.50,267.46 C236.00,267.23 236.50,267.21 237.00,267.16 C237.50,267.11 238.00,267.26 238.50,267.16 C239.00,267.05 239.50,266.83 240.00,266.52 C240.50,266.21 241.00,265.65 241.50,265.30 C242.00,264.96 242.50,264.57 243.00,264.46 C243.50,264.35 244.00,264.55 244.50,264.64 C245.00,264.72 245.50,264.98 246.00,264.95 C246.50,264.93 247.00,264.71 247.50,264.51 C248.00,264.31 248.50,263.90 249.00,263.76 C249.50,263.61 250.00,263.58 250.50,263.64 C251.00,263.70 251.50,264.01 252.00,264.11 C252.50,264.20 253.00,264.29 253.50,264.20 C254.00,264.11 254.50,263.76 255.00,263.57 C255.50,263.39 256.00,263.14 256.50,263.11 C257.00,263.08 257.50,263.26 258.00,263.41 C258.50,263.56 259.00,263.91 259.50,264.01 C260.00,264.10 260.50,264.08 261.00,263.97 C261.50,263.87 262.00,263.50 262.50,263.36 C263.00,263.22 263.50,263.07 264.00,263.12 C264.50,263.16 265.00,263.45 265.50,263.63 C266.00,263.80 266.50,264.11 267.00,264.18 C267.50,264.25 268.00,264.13 268.50,264.03 C269.00,263.93 269.50,263.63 270.00,263.58 C270.50,263.54 271.00,263.60 271.50,263.76 C272.00,263.92 272.50,264.33 273.00,264.52 C273.50,264.72 274.00,264.91 274.50,264.91 C275.00,264.92 275.50,264.66 276.00,264.56 C276.50,264.45 277.00,264.22 277.50,264.30 C278.00,264.38 278.50,264.74 279.00,265.04 C279.50,265.34 280.00,265.84 280.50,266.09 C281.00,266.33 281.50,266.46 282.00,266.50 C282.50,266.54 283.00,266.33 283.50,266.33 C284.00,266.34 284.50,266.34 285.00,266.54 C285.50,266.73 286.00,267.18 286.50,267.49 C287.00,267.80 287.50,268.21 288.00,268.40 C288.50,268.60 289.00,268.63 289.50,268.68 C290.00,268.73 290.50,268.58 291.00,268.69 C291.50,268.80 292.00,269.02 292.50,269.33 C293.00,269.64 293.50,270.21 294.00,270.55 C294.50,270.90 295.00,271.24 295.50,271.40 C296.00,271.56 296.50,271.46 297.00,271.50 C297.50,271.54 298.00,271.50 298.50,271.64 C299.00,271.79 299.50,272.12 300.00,272.38 C300.50,272.63 301.00,273.00 301.50,273.15 C302.00,273.30 302.50,273.34 303.00,273.29 C303.50,273.24 304.00,272.94 304.50,272.85 C305.00,272.77 305.50,272.68 306.00,272.78 C306.50,272.89 307.00,273.25 307.50,273.47 C308.00,273.69 308.50,274.02 309.00,274.11 C309.50,274.19 310.00,274.06 310.50,273.98 C311.00,273.90 311.50,273.65 312.00,273.64 C312.50,273.63 313.00,273.74 313.50,273.94 C314.00,274.13 314.50,274.58 315.00,274.81 C315.50,275.04 316.00,275.27 316.50,275.32 C317.00,275.36 317.50,275.21 318.00,275.07 C318.50,274.94 319.00,274.56 319.50,274.50 C320.00,274.44 320.50,274.58 321.00,274.69 C321.50,274.81 322.00,275.13 322.50,275.18 C323.00,275.24 323.75,275.07 324.00,275.05" fill="none" stroke="#c868ba" stroke-width="7.0" opacity="0.68"/>
<path d="M189.00,254.50 C190.33,254.42 191.17,254.53 197.00,254.00 C202.83,253.47 214.00,252.20 224.00,251.30 C234.00,250.40 247.33,248.60 257.00,248.60 C266.67,248.60 273.83,250.30 282.00,251.30 C290.17,252.30 299.67,253.48 306.00,254.60 C312.33,255.72 316.67,257.27 320.00,258.00 C323.33,258.73 325.00,258.83 326.00,259.00" fill="none" stroke="#7c68b4" stroke-width="5" opacity="0.35"/>
<path d="M189.00,263.20 C190.33,263.12 191.17,263.23 197.00,262.70 C202.83,262.17 214.00,260.90 224.00,260.00 C234.00,259.10 247.33,257.30 257.00,257.30 C266.67,257.30 273.83,259.00 282.00,260.00 C290.17,261.00 299.67,262.18 306.00,263.30 C312.33,264.42 316.67,265.97 320.00,266.70 C323.33,267.43 325.00,267.53 326.00,267.70" fill="none" stroke="#6a4aa0" stroke-width="2.2" opacity="0.45"/>
<rect x="190.2" y="200.3" width="133.40000000000003" height="100.30000000000001" fill="#fff" filter="url(#wsp)" opacity="0.45"/>
</g>
<path d="M189.00,259.00 C190.33,258.92 191.17,259.03 197.00,258.50 C202.83,257.97 214.00,256.70 224.00,255.80 C234.00,254.90 247.33,253.10 257.00,253.10 C266.67,253.10 273.83,254.80 282.00,255.80 C290.17,256.80 299.67,257.98 306.00,259.10 C312.33,260.22 316.67,261.77 320.00,262.50 C323.33,263.23 325.00,263.33 326.00,263.50" fill="none" stroke="#d8d0ea" stroke-width="6.2" opacity="0.85"/>
<path d="M189.00,259.00 C190.33,258.92 191.17,259.03 197.00,258.50 C202.83,257.97 214.00,256.70 224.00,255.80 C234.00,254.90 247.33,253.10 257.00,253.10 C266.67,253.10 273.83,254.80 282.00,255.80 C290.17,256.80 299.67,257.98 306.00,259.10 C312.33,260.22 316.67,261.77 320.00,262.50 C323.33,263.23 325.00,263.33 326.00,263.50" fill="none" stroke="#6a48a0" stroke-width="3.4"/>
<circle cx="190.0" cy="258.8" r="1.85" fill="#fbf9fc"/>
<circle cx="192.9" cy="258.5" r="1.40" fill="#fbf9fc"/>
<circle cx="196.0" cy="259.0" r="1.51" fill="#fbf9fc"/>
<circle cx="199.6" cy="257.9" r="1.26" fill="#fbf9fc"/>
<circle cx="203.2" cy="257.9" r="1.47" fill="#fbf9fc"/>
<circle cx="206.2" cy="257.3" r="1.61" fill="#fbf9fc"/>
<circle cx="209.4" cy="257.6" r="1.51" fill="#fbf9fc"/>
<circle cx="212.8" cy="256.9" r="1.72" fill="#fbf9fc"/>
<circle cx="215.6" cy="257.0" r="1.35" fill="#fbf9fc"/>
<circle cx="219.1" cy="256.5" r="1.40" fill="#fbf9fc"/>
<circle cx="222.6" cy="255.8" r="1.77" fill="#fbf9fc"/>
<circle cx="225.7" cy="256.0" r="1.34" fill="#fbf9fc"/>
<circle cx="229.2" cy="255.1" r="1.64" fill="#fbf9fc"/>
<circle cx="232.8" cy="255.0" r="1.64" fill="#fbf9fc"/>
<circle cx="236.5" cy="254.3" r="1.77" fill="#fbf9fc"/>
<circle cx="240.0" cy="254.2" r="1.60" fill="#fbf9fc"/>
<circle cx="243.5" cy="254.4" r="1.37" fill="#fbf9fc"/>
<circle cx="246.9" cy="254.1" r="1.64" fill="#fbf9fc"/>
<circle cx="250.4" cy="253.4" r="1.74" fill="#fbf9fc"/>
<circle cx="253.4" cy="253.7" r="1.68" fill="#fbf9fc"/>
<circle cx="256.6" cy="253.4" r="1.67" fill="#fbf9fc"/>
<circle cx="260.0" cy="253.3" r="1.35" fill="#fbf9fc"/>
<circle cx="263.6" cy="254.0" r="1.70" fill="#fbf9fc"/>
<circle cx="267.2" cy="254.2" r="1.65" fill="#fbf9fc"/>
<circle cx="270.8" cy="254.3" r="1.48" fill="#fbf9fc"/>
<circle cx="273.6" cy="255.1" r="1.27" fill="#fbf9fc"/>
<circle cx="276.4" cy="254.8" r="1.71" fill="#fbf9fc"/>
<circle cx="280.1" cy="255.6" r="1.46" fill="#fbf9fc"/>
<circle cx="283.2" cy="255.7" r="1.35" fill="#fbf9fc"/>
<circle cx="286.3" cy="256.5" r="1.79" fill="#fbf9fc"/>
<circle cx="289.3" cy="256.6" r="1.83" fill="#fbf9fc"/>
<circle cx="292.5" cy="257.2" r="1.49" fill="#fbf9fc"/>
<circle cx="295.9" cy="257.3" r="1.35" fill="#fbf9fc"/>
<circle cx="299.4" cy="258.6" r="1.40" fill="#fbf9fc"/>
<circle cx="302.6" cy="258.5" r="1.27" fill="#fbf9fc"/>
<circle cx="305.9" cy="259.4" r="1.60" fill="#fbf9fc"/>
<circle cx="309.6" cy="260.2" r="1.39" fill="#fbf9fc"/>
<circle cx="313.1" cy="260.4" r="1.24" fill="#fbf9fc"/>
<circle cx="316.4" cy="262.0" r="1.77" fill="#fbf9fc"/>
<circle cx="319.2" cy="262.0" r="1.38" fill="#fbf9fc"/>
<circle cx="322.8" cy="262.9" r="1.69" fill="#fbf9fc"/>
<circle cx="325.6" cy="263.6" r="1.41" fill="#fbf9fc"/>
<path d="M189.00,241.01 C189.25,240.75 190.00,240.05 190.50,239.45 C191.00,238.85 191.50,238.18 192.00,237.42 C192.50,236.67 193.00,235.62 193.50,234.94 C194.00,234.25 194.50,233.78 195.00,233.30 C195.50,232.82 196.00,232.60 196.50,232.06 C197.00,231.52 197.50,230.66 198.00,230.07 C198.50,229.49 199.00,228.98 199.50,228.55 C200.00,228.12 200.50,227.84 201.00,227.49 C201.50,227.14 202.00,226.77 202.50,226.46 C203.00,226.14 203.50,225.77 204.00,225.61 C204.50,225.46 205.00,225.63 205.50,225.52 C206.00,225.41 206.50,225.23 207.00,224.96 C207.50,224.70 208.00,224.16 208.50,223.95 C209.00,223.73 209.50,223.67 210.00,223.67 C210.50,223.68 211.00,223.97 211.50,223.96 C212.00,223.94 212.50,223.62 213.00,223.58 C213.50,223.53 214.00,223.55 214.50,223.66 C215.00,223.76 215.50,224.14 216.00,224.20 C216.50,224.26 217.00,224.06 217.50,223.99 C218.00,223.93 218.50,223.73 219.00,223.79 C219.50,223.85 220.00,224.18 220.50,224.33 C221.00,224.49 221.50,224.61 222.00,224.72 C222.50,224.83 223.00,224.78 223.50,225.00 C224.00,225.22 224.50,225.68 225.00,226.02 C225.50,226.36 226.00,226.83 226.50,227.05 C227.00,227.26 227.50,227.14 228.00,227.32 C228.50,227.50 229.00,227.79 229.50,228.13 C230.00,228.48 230.50,229.10 231.00,229.40 C231.50,229.70 232.00,229.75 232.50,229.92 C233.00,230.10 233.50,230.28 234.00,230.45 C234.50,230.61 235.00,230.90 235.50,230.90 C236.00,230.91 236.50,230.71 237.00,230.49 C237.50,230.28 238.00,229.79 238.50,229.62 C239.00,229.46 239.50,229.58 240.00,229.50 C240.50,229.42 241.00,229.40 241.50,229.16 C242.00,228.92 242.50,228.36 243.00,228.07 C243.50,227.79 244.00,227.58 244.50,227.45 C245.00,227.32 245.50,227.39 246.00,227.29 C246.50,227.18 247.00,226.98 247.50,226.82 C248.00,226.67 248.50,226.39 249.00,226.36 C249.50,226.34 250.00,226.63 250.50,226.65 C251.00,226.67 251.50,226.60 252.00,226.48 C252.50,226.35 253.00,225.98 253.50,225.92 C254.00,225.86 254.50,226.05 255.00,226.11 C255.50,226.18 256.00,226.36 256.50,226.30 C257.00,226.24 257.50,225.86 258.00,225.75 C258.50,225.64 259.00,225.57 259.50,225.65 C260.00,225.74 260.50,226.17 261.00,226.27 C261.50,226.36 262.00,226.26 262.50,226.25 C263.00,226.25 263.50,226.12 264.00,226.24 C264.50,226.36 265.00,226.79 265.50,226.97 C266.00,227.15 266.50,227.27 267.00,227.32 C267.50,227.37 268.00,227.16 268.50,227.27 C269.00,227.37 269.50,227.73 270.00,227.96 C270.50,228.19 271.00,228.55 271.50,228.65 C272.00,228.75 272.50,228.50 273.00,228.54 C273.50,228.57 274.00,228.67 274.50,228.85 C275.00,229.04 275.50,229.49 276.00,229.63 C276.50,229.77 277.00,229.65 277.50,229.70 C278.00,229.75 278.50,229.73 279.00,229.94 C279.50,230.14 280.00,230.66 280.50,230.91 C281.00,231.16 281.50,231.35 282.00,231.43 C282.50,231.51 283.00,231.31 283.50,231.39 C284.00,231.47 284.50,231.73 285.00,231.90 C285.50,232.07 286.00,232.37 286.50,232.41 C287.00,232.46 287.50,232.26 288.00,232.18 C288.50,232.10 289.00,231.96 289.50,231.94 C290.00,231.91 290.50,232.13 291.00,232.04 C291.50,231.95 292.00,231.61 292.50,231.40 C293.00,231.18 293.50,230.78 294.00,230.75 C294.50,230.73 295.00,231.04 295.50,231.27 C296.00,231.50 296.50,231.93 297.00,232.14 C297.50,232.35 298.00,232.29 298.50,232.55 C299.00,232.81 299.50,233.32 300.00,233.71 C300.50,234.10 301.00,234.73 301.50,234.87 C302.00,235.01 302.50,234.60 303.00,234.55 C303.50,234.51 304.00,234.50 304.50,234.59 C305.00,234.67 305.50,235.04 306.00,235.08 C306.50,235.12 307.00,234.91 307.50,234.83 C308.00,234.75 308.50,234.54 309.00,234.58 C309.50,234.62 310.00,235.07 310.50,235.07 C311.00,235.07 311.50,234.83 312.00,234.58 C312.50,234.34 313.00,233.80 313.50,233.59 C314.00,233.39 314.50,233.43 315.00,233.35 C315.50,233.28 316.00,233.32 316.50,233.14 C317.00,232.95 317.50,232.45 318.00,232.23 C318.50,232.00 319.00,231.85 319.50,231.78 C320.00,231.71 320.50,231.91 321.00,231.79 C321.50,231.68 322.00,231.33 322.50,231.11 C323.00,230.88 323.75,230.57 324.00,230.46" fill="none" stroke="#4a1468" stroke-width="1.8"/>
<path d="M189.00,281.54 C189.25,281.47 190.00,281.39 190.50,281.13 C191.00,280.87 191.50,280.35 192.00,279.97 C192.50,279.59 193.00,279.09 193.50,278.85 C194.00,278.60 194.50,278.56 195.00,278.49 C195.50,278.42 196.00,278.56 196.50,278.44 C197.00,278.32 197.50,278.06 198.00,277.75 C198.50,277.44 199.00,276.87 199.50,276.58 C200.00,276.30 200.50,276.10 201.00,276.04 C201.50,275.99 202.00,276.19 202.50,276.25 C203.00,276.31 203.50,276.49 204.00,276.42 C204.50,276.35 205.00,276.07 205.50,275.83 C206.00,275.58 206.50,275.12 207.00,274.93 C207.50,274.73 208.00,274.65 208.50,274.66 C209.00,274.67 209.50,274.89 210.00,274.98 C210.50,275.07 211.00,275.23 211.50,275.18 C212.00,275.13 212.50,274.84 213.00,274.67 C213.50,274.51 214.00,274.24 214.50,274.21 C215.00,274.18 215.50,274.36 216.00,274.51 C216.50,274.66 217.00,275.01 217.50,275.11 C218.00,275.20 218.50,275.18 219.00,275.07 C219.50,274.97 220.00,274.61 220.50,274.46 C221.00,274.31 221.50,274.14 222.00,274.15 C222.50,274.16 223.00,274.39 223.50,274.51 C224.00,274.62 224.50,274.85 225.00,274.83 C225.50,274.80 226.00,274.58 226.50,274.38 C227.00,274.18 227.50,273.77 228.00,273.63 C228.50,273.49 229.00,273.45 229.50,273.51 C230.00,273.57 230.50,273.89 231.00,273.98 C231.50,274.07 232.00,274.22 232.50,274.04 C233.00,273.87 233.50,273.29 234.00,272.93 C234.50,272.57 235.00,272.09 235.50,271.86 C236.00,271.63 236.50,271.61 237.00,271.56 C237.50,271.51 238.00,271.66 238.50,271.56 C239.00,271.45 239.50,271.23 240.00,270.92 C240.50,270.61 241.00,270.05 241.50,269.70 C242.00,269.36 242.50,268.97 243.00,268.86 C243.50,268.75 244.00,268.95 244.50,269.04 C245.00,269.12 245.50,269.38 246.00,269.35 C246.50,269.33 247.00,269.11 247.50,268.91 C248.00,268.71 248.50,268.30 249.00,268.16 C249.50,268.01 250.00,267.98 250.50,268.04 C251.00,268.10 251.50,268.41 252.00,268.51 C252.50,268.60 253.00,268.69 253.50,268.60 C254.00,268.51 254.50,268.16 255.00,267.97 C255.50,267.79 256.00,267.54 256.50,267.51 C257.00,267.48 257.50,267.66 258.00,267.81 C258.50,267.96 259.00,268.31 259.50,268.41 C260.00,268.50 260.50,268.48 261.00,268.37 C261.50,268.27 262.00,267.90 262.50,267.76 C263.00,267.62 263.50,267.47 264.00,267.52 C264.50,267.56 265.00,267.85 265.50,268.03 C266.00,268.20 266.50,268.51 267.00,268.58 C267.50,268.65 268.00,268.53 268.50,268.43 C269.00,268.33 269.50,268.03 270.00,267.98 C270.50,267.94 271.00,268.00 271.50,268.16 C272.00,268.32 272.50,268.73 273.00,268.92 C273.50,269.12 274.00,269.31 274.50,269.31 C275.00,269.32 275.50,269.06 276.00,268.96 C276.50,268.85 277.00,268.62 277.50,268.70 C278.00,268.78 278.50,269.14 279.00,269.44 C279.50,269.74 280.00,270.24 280.50,270.49 C281.00,270.73 281.50,270.86 282.00,270.90 C282.50,270.94 283.00,270.73 283.50,270.73 C284.00,270.74 284.50,270.74 285.00,270.94 C285.50,271.13 286.00,271.58 286.50,271.89 C287.00,272.20 287.50,272.61 288.00,272.80 C288.50,273.00 289.00,273.03 289.50,273.08 C290.00,273.13 290.50,272.98 291.00,273.09 C291.50,273.20 292.00,273.42 292.50,273.73 C293.00,274.04 293.50,274.61 294.00,274.95 C294.50,275.30 295.00,275.64 295.50,275.80 C296.00,275.96 296.50,275.86 297.00,275.90 C297.50,275.94 298.00,275.90 298.50,276.04 C299.00,276.19 299.50,276.52 300.00,276.78 C300.50,277.03 301.00,277.40 301.50,277.55 C302.00,277.70 302.50,277.74 303.00,277.69 C303.50,277.64 304.00,277.34 304.50,277.25 C305.00,277.17 305.50,277.08 306.00,277.18 C306.50,277.29 307.00,277.65 307.50,277.87 C308.00,278.09 308.50,278.42 309.00,278.51 C309.50,278.59 310.00,278.46 310.50,278.38 C311.00,278.30 311.50,278.05 312.00,278.04 C312.50,278.03 313.00,278.14 313.50,278.34 C314.00,278.53 314.50,278.98 315.00,279.21 C315.50,279.44 316.00,279.67 316.50,279.72 C317.00,279.76 317.50,279.61 318.00,279.47 C318.50,279.34 319.00,278.96 319.50,278.90 C320.00,278.84 320.50,278.98 321.00,279.09 C321.50,279.21 322.00,279.53 322.50,279.58 C323.00,279.64 323.75,279.47 324.00,279.45" fill="none" stroke="#4a1468" stroke-width="2.4"/>
<ellipse cx="202" cy="277.1" rx="1.8" ry="1.4" fill="#4a1468" opacity="0.85"/>
<ellipse cx="208" cy="275.9" rx="1.9" ry="1.4" fill="#4a1468" opacity="0.85"/>
<ellipse cx="214" cy="275.5" rx="2.1" ry="1.1" fill="#4a1468" opacity="0.85"/>
<ellipse cx="219" cy="275.5" rx="1.6" ry="1.5" fill="#4a1468" opacity="0.85"/>
<ellipse cx="226" cy="275.0" rx="1.8" ry="1.2" fill="#4a1468" opacity="0.85"/>
<ellipse cx="233" cy="274.2" rx="2.4" ry="1.3" fill="#4a1468" opacity="0.85"/>
<ellipse cx="262" cy="268.8" rx="2.3" ry="1.3" fill="#4a1468" opacity="0.85"/>
<ellipse cx="268" cy="269.0" rx="2.1" ry="1.2" fill="#4a1468" opacity="0.85"/>
<ellipse cx="291" cy="274.3" rx="2.1" ry="1.5" fill="#4a1468" opacity="0.85"/>
<ellipse cx="297" cy="276.7" rx="2.0" ry="1.5" fill="#4a1468" opacity="0.85"/>
<ellipse cx="304" cy="278.2" rx="2.1" ry="1.1" fill="#4a1468" opacity="0.85"/>
<ellipse cx="309" cy="278.8" rx="2.2" ry="1.4" fill="#4a1468" opacity="0.85"/>
<ellipse cx="316" cy="279.9" rx="1.8" ry="1.1" fill="#4a1468" opacity="0.85"/>
</g>
<defs><filter id="blur1" x="-50%" y="-200%" width="200%" height="500%"><feGaussianBlur stdDeviation="1.2"/></filter></defs>
<rect x="147" y="289.5" width="20" height="3.2" fill="#e4e870" filter="url(#blur1)" opacity="0.7"/>
<rect x="283" y="290.3" width="20" height="3.2" fill="#e2e472" filter="url(#blur1)" opacity="0.7"/>
<text x="65.30" y="191.30" font-size="11.6" text-anchor="start" font-weight="bold" >control Ig-treated</text>
<text x="223.50" y="191.30" font-size="11.6" text-anchor="start" font-weight="bold" >Ba103-treated</text>
<text x="3.50" y="189.00" font-size="13.8" text-anchor="start" font-weight="bold" >B</text>
<rect x="63.7" y="339.9" width="70.89999999999999" height="113.80000000000001" fill="none" stroke="#000" stroke-width="1.5"/>
<rect x="69.6" y="343.0" width="27.200000000000003" height="110.69999999999999" fill="#d3d3d3" stroke="#000" stroke-width="1"/>
<rect x="103.7" y="449.8" width="27.299999999999997" height="3.8999999999999773" fill="#000" stroke="#000" stroke-width="1"/>
<line x1="61.10" y1="453.60" x2="63.70" y2="453.60" stroke="#000" stroke-width="1.2"/>
<line x1="61.10" y1="421.32" x2="63.70" y2="421.32" stroke="#000" stroke-width="1.2"/>
<line x1="61.10" y1="389.04" x2="63.70" y2="389.04" stroke="#000" stroke-width="1.2"/>
<line x1="61.10" y1="356.76" x2="63.70" y2="356.76" stroke="#000" stroke-width="1.2"/>
<line x1="61.10" y1="340.62" x2="63.70" y2="340.62" stroke="#000" stroke-width="1.2"/>
<line x1="61.90" y1="437.46" x2="63.70" y2="437.46" stroke="#000" stroke-width="1.0"/>
<line x1="61.90" y1="405.18" x2="63.70" y2="405.18" stroke="#000" stroke-width="1.0"/>
<line x1="61.90" y1="372.90" x2="63.70" y2="372.90" stroke="#000" stroke-width="1.0"/>
<text x="60.00" y="359.60" font-size="8.7" text-anchor="end" font-weight="bold" >12</text>
<text x="58.10" y="392.20" font-size="8.7" text-anchor="end" font-weight="bold" >8</text>
<text x="58.10" y="425.30" font-size="8.7" text-anchor="end" font-weight="bold" >4</text>
<text x="57.80" y="456.50" font-size="8.7" text-anchor="end" font-weight="bold" >0</text>
<text x="69.30" y="330.30" font-size="12.1" text-anchor="start" font-weight="bold" >Basophils</text>
<rect x="159.2" y="340" width="70.8" height="113.8" fill="none" stroke="#000" stroke-width="1.5"/>
<rect x="164.3" y="345.4" width="28" height="108.4" fill="#d3d3d3" stroke="#000" stroke-width="1"/>
<rect x="197.3" y="442.1" width="27" height="11.7" fill="#000" stroke="#000" stroke-width="1"/>
<line x1="156.60" y1="340.00" x2="159.20" y2="340.00" stroke="#000" stroke-width="1.2"/>
<line x1="156.60" y1="367.20" x2="159.20" y2="367.20" stroke="#000" stroke-width="1.2"/>
<line x1="156.60" y1="396.90" x2="159.20" y2="396.90" stroke="#000" stroke-width="1.2"/>
<line x1="156.60" y1="425.70" x2="159.20" y2="425.70" stroke="#000" stroke-width="1.2"/>
<line x1="156.60" y1="453.80" x2="159.20" y2="453.80" stroke="#000" stroke-width="1.2"/>
<line x1="157.40" y1="353.50" x2="159.20" y2="353.50" stroke="#000" stroke-width="1.0"/>
<line x1="157.40" y1="382.30" x2="159.20" y2="382.30" stroke="#000" stroke-width="1.0"/>
<line x1="157.40" y1="411.00" x2="159.20" y2="411.00" stroke="#000" stroke-width="1.0"/>
<line x1="157.40" y1="439.60" x2="159.20" y2="439.60" stroke="#000" stroke-width="1.0"/>
<text x="155.80" y="342.80" font-size="8.7" text-anchor="end" font-weight="bold" >120</text>
<text x="156.00" y="370.30" font-size="8.7" text-anchor="end" font-weight="bold" >100</text>
<text x="155.20" y="400.00" font-size="8.7" text-anchor="end" font-weight="bold" >80</text>
<text x="154.70" y="428.80" font-size="8.7" text-anchor="end" font-weight="bold" >40</text>
<text x="153.40" y="456.70" font-size="8.7" text-anchor="end" font-weight="bold" >0</text>
<text x="159.30" y="330.30" font-size="12.1" text-anchor="start" font-weight="bold" >Eosinophils</text>
<rect x="252.3" y="340.0" width="70.69999999999999" height="114.0" fill="none" stroke="#000" stroke-width="1.5"/>
<rect x="258.6" y="350.8" width="27.0" height="103.19999999999999" fill="#d3d3d3" stroke="#000" stroke-width="1"/>
<rect x="292.2" y="431.1" width="26.80000000000001" height="22.899999999999977" fill="#000" stroke="#000" stroke-width="1"/>
<line x1="249.70" y1="453.80" x2="252.30" y2="453.80" stroke="#000" stroke-width="1.2"/>
<line x1="249.70" y1="421.40" x2="252.30" y2="421.40" stroke="#000" stroke-width="1.2"/>
<line x1="249.70" y1="389.00" x2="252.30" y2="389.00" stroke="#000" stroke-width="1.2"/>
<line x1="249.70" y1="356.60" x2="252.30" y2="356.60" stroke="#000" stroke-width="1.2"/>
<line x1="249.70" y1="340.40" x2="252.30" y2="340.40" stroke="#000" stroke-width="1.2"/>
<line x1="250.50" y1="437.60" x2="252.30" y2="437.60" stroke="#000" stroke-width="1.0"/>
<line x1="250.50" y1="405.20" x2="252.30" y2="405.20" stroke="#000" stroke-width="1.0"/>
<line x1="250.50" y1="372.80" x2="252.30" y2="372.80" stroke="#000" stroke-width="1.0"/>
<text x="248.90" y="359.70" font-size="8.7" text-anchor="end" font-weight="bold" >60</text>
<text x="248.60" y="393.20" font-size="8.7" text-anchor="end" font-weight="bold" >40</text>
<text x="249.20" y="425.70" font-size="8.7" text-anchor="end" font-weight="bold" >20</text>
<text x="246.10" y="456.70" font-size="8.7" text-anchor="end" font-weight="bold" >0</text>
<text x="253.20" y="330.30" font-size="12.1" text-anchor="start" font-weight="bold" >Neutrophils</text>
<text x="82.90" y="465.70" font-size="9.4" text-anchor="middle" font-weight="bold" >control</text>
<text x="178.00" y="465.70" font-size="9.4" text-anchor="middle" font-weight="bold" >control</text>
<text x="272.00" y="465.70" font-size="9.4" text-anchor="middle" font-weight="bold" >control</text>
<text x="118.20" y="465.70" font-size="9.4" text-anchor="middle" font-weight="bold" >Ba103</text>
<text x="211.40" y="465.70" font-size="9.4" text-anchor="middle" font-weight="bold" >Ba103</text>
<text x="305.60" y="465.70" font-size="9.4" text-anchor="middle" font-weight="bold" >Ba103</text>
<text transform="translate(46.4,453.4) rotate(-90)" font-size="9.85" font-weight="bold">Cell number (x 10<tspan dy="-3.4" font-size="6.6">2</tspan><tspan dy="3.4"> ) / ear</tspan></text>
<text x="1.70" y="328.60" font-size="13.8" text-anchor="start" font-weight="bold" >C</text>
<line x1="434.40" y1="247.55" x2="434.40" y2="238.14" stroke="#000" stroke-width="1.0"/>
<line x1="449.60" y1="236.66" x2="449.60" y2="224.28" stroke="#000" stroke-width="1.0"/>
<line x1="464.80" y1="241.11" x2="464.80" y2="227.75" stroke="#000" stroke-width="1.0"/>
<line x1="480.00" y1="278.24" x2="480.00" y2="264.38" stroke="#000" stroke-width="1.0"/>
<line x1="434.40" y1="329.71" x2="434.40" y2="315.86" stroke="#000" stroke-width="1.0"/>
<line x1="449.60" y1="335.16" x2="449.60" y2="324.76" stroke="#000" stroke-width="1.0"/>
<polyline points="404.00,351.00 419.20,356.94 434.40,329.71 449.60,335.16 464.80,342.09 480.00,338.62 495.20,337.63 510.40,349.51" fill="none" stroke="#000" stroke-width="1.1" stroke-linejoin="miter"/>
<polyline points="404.00,351.00 419.20,347.04 434.40,255.96 449.60,248.04 464.80,331.20 480.00,336.64 495.20,336.64 510.40,336.64" fill="none" stroke="#000" stroke-width="1.4" stroke-linejoin="miter"/>
<polyline points="404.00,351.00 419.20,347.04 434.40,247.55 449.60,236.66 464.80,241.11 480.00,278.24 495.20,331.69 510.40,333.18" fill="none" stroke="#000" stroke-width="1.6" stroke-linejoin="miter"/>
<circle cx="404.00" cy="351.00" r="3.0" fill="#fff" stroke="#000" stroke-width="1.0"/>
<circle cx="419.20" cy="356.94" r="3.0" fill="#fff" stroke="#000" stroke-width="1.0"/>
<circle cx="434.40" cy="329.71" r="3.0" fill="#fff" stroke="#000" stroke-width="1.0"/>
<circle cx="449.60" cy="335.16" r="3.0" fill="#fff" stroke="#000" stroke-width="1.0"/>
<circle cx="464.80" cy="342.09" r="3.0" fill="#fff" stroke="#000" stroke-width="1.0"/>
<circle cx="480.00" cy="338.62" r="3.0" fill="#fff" stroke="#000" stroke-width="1.0"/>
<circle cx="495.20" cy="337.63" r="3.0" fill="#fff" stroke="#000" stroke-width="1.0"/>
<circle cx="510.40" cy="349.51" r="3.0" fill="#fff" stroke="#000" stroke-width="1.0"/>
<polygon points="404.00,347.40 407.60,351.00 404.00,354.60 400.40,351.00" fill="#fff" stroke="#000" stroke-width="1.0"/>
<polygon points="419.20,343.44 422.80,347.04 419.20,350.64 415.60,347.04" fill="#fff" stroke="#000" stroke-width="1.0"/>
<polygon points="434.40,252.36 438.00,255.96 434.40,259.56 430.80,255.96" fill="#fff" stroke="#000" stroke-width="1.0"/>
<polygon points="449.60,244.44 453.20,248.04 449.60,251.64 446.00,248.04" fill="#fff" stroke="#000" stroke-width="1.0"/>
<polygon points="464.80,327.60 468.40,331.20 464.80,334.80 461.20,331.20" fill="#fff" stroke="#000" stroke-width="1.0"/>
<polygon points="480.00,333.04 483.60,336.64 480.00,340.25 476.40,336.64" fill="#fff" stroke="#000" stroke-width="1.0"/>
<polygon points="495.20,333.04 498.80,336.64 495.20,340.25 491.60,336.64" fill="#fff" stroke="#000" stroke-width="1.0"/>
<polygon points="510.40,333.04 514.00,336.64 510.40,340.25 506.80,336.64" fill="#fff" stroke="#000" stroke-width="1.0"/>
<rect x="401.70" y="348.70" width="4.6" height="4.6" fill="#000"/>
<rect x="416.90" y="344.74" width="4.6" height="4.6" fill="#000"/>
<rect x="432.10" y="245.25" width="4.6" height="4.6" fill="#000"/>
<rect x="447.30" y="234.35" width="4.6" height="4.6" fill="#000"/>
<rect x="462.50" y="238.81" width="4.6" height="4.6" fill="#000"/>
<rect x="477.70" y="275.94" width="4.6" height="4.6" fill="#000"/>
<rect x="492.90" y="329.39" width="4.6" height="4.6" fill="#000"/>
<rect x="508.10" y="330.88" width="4.6" height="4.6" fill="#000"/>
<rect x="404.0" y="202.0" width="106.0" height="175.0" fill="none" stroke="#000" stroke-width="1.8"/>
<line x1="401.00" y1="351.00" x2="404.00" y2="351.00" stroke="#000" stroke-width="1.3"/>
<line x1="401.00" y1="301.50" x2="404.00" y2="301.50" stroke="#000" stroke-width="1.3"/>
<line x1="401.00" y1="252.00" x2="404.00" y2="252.00" stroke="#000" stroke-width="1.3"/>
<line x1="401.00" y1="202.50" x2="404.00" y2="202.50" stroke="#000" stroke-width="1.3"/>
<line x1="404.00" y1="377.00" x2="404.00" y2="380.30" stroke="#000" stroke-width="1.3"/>
<line x1="419.20" y1="377.00" x2="419.20" y2="380.30" stroke="#000" stroke-width="1.3"/>
<line x1="434.40" y1="377.00" x2="434.40" y2="380.30" stroke="#000" stroke-width="1.3"/>
<line x1="449.60" y1="377.00" x2="449.60" y2="380.30" stroke="#000" stroke-width="1.3"/>
<line x1="464.80" y1="377.00" x2="464.80" y2="380.30" stroke="#000" stroke-width="1.3"/>
<line x1="480.00" y1="377.00" x2="480.00" y2="380.30" stroke="#000" stroke-width="1.3"/>
<line x1="495.20" y1="377.00" x2="495.20" y2="380.30" stroke="#000" stroke-width="1.3"/>
<line x1="510.40" y1="377.00" x2="510.40" y2="380.30" stroke="#000" stroke-width="1.3"/>
<text x="404.00" y="390.20" font-size="8.9" text-anchor="middle" font-weight="bold" >0</text>
<text x="434.40" y="390.20" font-size="8.9" text-anchor="middle" font-weight="bold" >2</text>
<text x="464.80" y="390.20" font-size="8.9" text-anchor="middle" font-weight="bold" >4</text>
<text x="495.20" y="390.20" font-size="8.9" text-anchor="middle" font-weight="bold" >6</text>
<text x="399.00" y="205.60" font-size="8.9" text-anchor="end" font-weight="bold" >300</text>
<text x="397.60" y="255.10" font-size="8.9" text-anchor="end" font-weight="bold" >200</text>
<text x="397.40" y="304.60" font-size="8.9" text-anchor="end" font-weight="bold" >100</text>
<text x="397.60" y="354.10" font-size="8.9" text-anchor="end" font-weight="bold" >0</text>
<rect x="469.7" y="206.6" width="35.6" height="25.4" fill="#fff" stroke="#000" stroke-width="1"/>
<line x1="504.6" y1="207.6" x2="504.6" y2="231.4" stroke="#888" stroke-width="0.8"/>
<line x1="472.40" y1="211.80" x2="482.70" y2="211.80" stroke="#000" stroke-width="1.6"/>
<line x1="472.40" y1="218.60" x2="482.70" y2="218.60" stroke="#000" stroke-width="1.6"/>
<line x1="472.40" y1="225.70" x2="482.70" y2="225.70" stroke="#000" stroke-width="1.6"/>
<rect x="475.80" y="210.10" width="3.4" height="3.4" fill="#000"/>
<circle cx="477.50" cy="218.60" r="2.2" fill="#fff" stroke="#000" stroke-width="1.0"/>
<polygon points="477.50,222.60 480.60,225.70 477.50,228.80 474.40,225.70" fill="#fff" stroke="#000" stroke-width="1.0"/>
<text x="485.80" y="214.00" font-size="6.0" text-anchor="start" font-weight="bold" >cont.</text>
<text x="485.80" y="220.80" font-size="6.0" text-anchor="start" font-weight="bold" >Day 1</text>
<text x="485.80" y="227.90" font-size="6.0" text-anchor="start" font-weight="bold" >Day 3</text>
<text x="394.60" y="400.20" font-size="9.3" text-anchor="start" font-weight="bold" >Days after antigen challenge</text>
<text transform="translate(376.4,354.8) rotate(-90)" font-size="9.6" font-weight="bold"><tspan font-weight="normal">&#916;</tspan> Ear thickness (x 10<tspan dy="-4.6" font-size="7.4">-3</tspan><tspan dy="4.6" dx="0.8">mm)</tspan></text>
<text x="359.20" y="187.70" font-size="13.8" text-anchor="start" font-weight="bold" >D</text>
</svg>
</body></html>
